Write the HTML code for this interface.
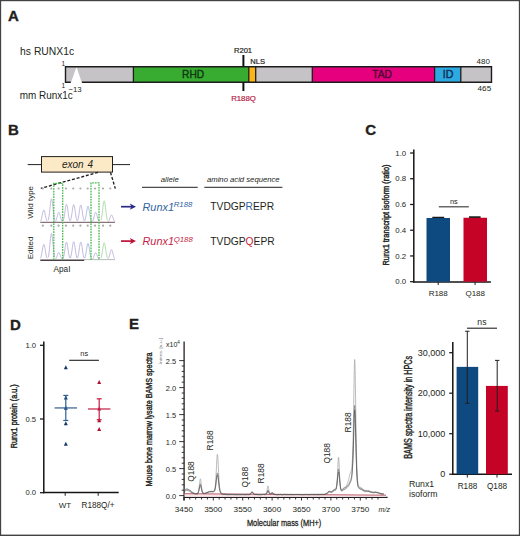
<!DOCTYPE html>
<html><head><meta charset="utf-8"><style>
html,body{margin:0;padding:0;background:#fff;}
svg{display:block;font-family:"Liberation Sans", sans-serif;}
</style></head><body>
<svg width="520" height="536" viewBox="0 0 520 536">
<rect x="0" y="0" width="520" height="536" fill="#fff"/>
<text x="7.9" y="20.6" font-size="15" fill="#231f20" text-anchor="start" font-weight="bold" font-style="normal" stroke="#231f20" stroke-width="0.35">A</text>
<text x="20.1" y="55.3" font-size="10.7" fill="#231f20" text-anchor="start" font-weight="normal" font-style="normal" textLength="54" lengthAdjust="spacingAndGlyphs">hs RUNX1c</text>
<text x="19.8" y="98.8" font-size="10.7" fill="#231f20" text-anchor="start" font-weight="normal" font-style="normal" textLength="53" lengthAdjust="spacingAndGlyphs">mm Runx1c</text>
<rect x="65.5" y="66.7" width="67.9" height="15.599999999999994" fill="#c6c3c6"/>
<rect x="133.4" y="66.7" width="115.4" height="15.599999999999994" fill="#37ac31"/>
<rect x="248.8" y="66.7" width="6.899999999999977" height="15.599999999999994" fill="#fbb616"/>
<rect x="255.7" y="66.7" width="56.60000000000002" height="15.599999999999994" fill="#c6c3c6"/>
<rect x="312.3" y="66.7" width="122.30000000000001" height="15.599999999999994" fill="#e6007e"/>
<rect x="434.6" y="66.7" width="26.19999999999999" height="15.599999999999994" fill="#2eaae2"/>
<rect x="460.8" y="66.7" width="30.69999999999999" height="15.599999999999994" fill="#c6c3c6"/>
<line x1="133.4" y1="66.7" x2="133.4" y2="82.3" stroke="#1c1c1c" stroke-width="1.3"/>
<line x1="248.8" y1="66.7" x2="248.8" y2="82.3" stroke="#1c1c1c" stroke-width="1.3"/>
<line x1="255.7" y1="66.7" x2="255.7" y2="82.3" stroke="#1c1c1c" stroke-width="1.3"/>
<line x1="312.3" y1="66.7" x2="312.3" y2="82.3" stroke="#1c1c1c" stroke-width="1.3"/>
<line x1="434.6" y1="66.7" x2="434.6" y2="82.3" stroke="#1c1c1c" stroke-width="1.3"/>
<line x1="460.8" y1="66.7" x2="460.8" y2="82.3" stroke="#1c1c1c" stroke-width="1.3"/>
<polygon points="70.8,82.89999999999999 76.5,67.0 81.9,82.89999999999999" fill="#fff"/>
<path d="M70.8,82.3 H65.5 V66.7 H491.5 V82.3 H81.9" fill="none" stroke="#1c1c1c" stroke-width="1.4"/>
<text x="193.1" y="77.5" font-size="10.2" fill="#123612" text-anchor="middle" font-weight="normal" font-style="normal" stroke="#123612" stroke-width="0.35">RHD</text>
<text x="382.1" y="77.6" font-size="10.2" fill="#4e0830" text-anchor="middle" font-weight="normal" font-style="normal" stroke="#4e0830" stroke-width="0.4">TAD</text>
<text x="448.0" y="77.6" font-size="10.6" fill="#0d3658" text-anchor="middle" font-weight="normal" font-style="normal" stroke="#0d3658" stroke-width="0.45">ID</text>
<line x1="243.4" y1="55" x2="243.4" y2="66" stroke="#111" stroke-width="2"/>
<line x1="243.4" y1="82.6" x2="243.4" y2="91" stroke="#111" stroke-width="2"/>
<text x="243" y="53" font-size="7.6" fill="#231f20" text-anchor="middle" font-weight="normal" font-style="normal" stroke="#231f20" stroke-width="0.2">R201</text>
<text x="250.3" y="64" font-size="7.6" fill="#231f20" text-anchor="start" font-weight="normal" font-style="normal" stroke="#231f20" stroke-width="0.2">NLS</text>
<text x="243.5" y="101.2" font-size="7.8" fill="#b8203f" text-anchor="middle" font-weight="normal" font-style="normal" stroke="#b8203f" stroke-width="0.2">R188Q</text>
<text x="61.4" y="65.5" font-size="6.6" fill="#231f20" text-anchor="start" font-weight="normal" font-style="normal" >1</text>
<text x="61.4" y="87.9" font-size="6.6" fill="#231f20" text-anchor="start" font-weight="normal" font-style="normal" >1</text>
<text x="68.4" y="91.7" font-size="7.8" fill="#231f20" text-anchor="start" font-weight="normal" font-style="normal" >−13</text>
<text x="476.6" y="63.8" font-size="6.8" fill="#231f20" text-anchor="start" font-weight="normal" font-style="normal" textLength="13.3" lengthAdjust="spacingAndGlyphs">480</text>
<text x="477.6" y="91.3" font-size="6.8" fill="#231f20" text-anchor="start" font-weight="normal" font-style="normal" textLength="13.6" lengthAdjust="spacingAndGlyphs">465</text>
<text x="7.9" y="134.5" font-size="15" fill="#231f20" text-anchor="start" font-weight="bold" font-style="normal" stroke="#231f20" stroke-width="0.35">B</text>
<line x1="27.7" y1="164.6" x2="130" y2="164.6" stroke="#231f20" stroke-width="1"/>
<rect x="41.5" y="156.6" width="71" height="15.5" fill="#fce9c6" stroke="#231f20" stroke-width="1"/>
<text x="77.5" y="167.7" font-size="10" fill="#231f20" text-anchor="middle" font-weight="normal" font-style="italic" word-spacing="1">exon 4</text>
<line x1="98" y1="172.4" x2="40.8" y2="188.3" stroke="#231f20" stroke-width="1.35" stroke-dasharray="3,1.8"/>
<line x1="110.5" y1="172.4" x2="115.3" y2="188.6" stroke="#231f20" stroke-width="1.35" stroke-dasharray="3,1.8"/>
<circle cx="42.8" cy="188.5" r="1.1" fill="#a8aaad"/>
<circle cx="42.8" cy="225.7" r="1.1" fill="#a8aaad"/>
<circle cx="51.3" cy="188.5" r="1.1" fill="#a8aaad"/>
<circle cx="51.3" cy="225.7" r="1.1" fill="#a8aaad"/>
<circle cx="58.6" cy="188.5" r="1.1" fill="#a8aaad"/>
<circle cx="58.6" cy="225.7" r="1.1" fill="#a8aaad"/>
<circle cx="65.9" cy="188.5" r="1.1" fill="#a8aaad"/>
<circle cx="65.9" cy="225.7" r="1.1" fill="#a8aaad"/>
<circle cx="73.2" cy="188.5" r="1.1" fill="#a8aaad"/>
<circle cx="73.2" cy="225.7" r="1.1" fill="#a8aaad"/>
<circle cx="80.4" cy="188.5" r="1.1" fill="#a8aaad"/>
<circle cx="80.4" cy="225.7" r="1.1" fill="#a8aaad"/>
<circle cx="87.7" cy="188.5" r="1.1" fill="#a8aaad"/>
<circle cx="87.7" cy="225.7" r="1.1" fill="#a8aaad"/>
<circle cx="95.0" cy="188.5" r="1.1" fill="#a8aaad"/>
<circle cx="95.0" cy="225.7" r="1.1" fill="#a8aaad"/>
<circle cx="103.0" cy="188.5" r="1.1" fill="#a8aaad"/>
<circle cx="103.0" cy="225.7" r="1.1" fill="#a8aaad"/>
<circle cx="110.3" cy="188.5" r="1.1" fill="#a8aaad"/>
<circle cx="110.3" cy="225.7" r="1.1" fill="#a8aaad"/>
<path d="M40.50,221.21 L40.83,220.57 L41.16,219.69 L41.49,218.54 L41.82,217.15 L42.15,215.58 L42.48,213.95 L42.81,212.41 L43.14,211.13 L43.47,210.29 L43.80,210.00 L44.13,210.29 L44.46,211.13 L44.79,212.41 L45.12,213.95 L45.45,215.58 L45.78,217.15 L46.11,218.54 L46.44,219.69 L46.77,220.57 L47.10,221.21" fill="none" stroke="#b3aad6" stroke-width="0.8"/>
<path d="M48.20,220.21 L48.53,218.99 L48.86,217.31 L49.19,215.12 L49.52,212.47 L49.85,209.47 L50.18,206.34 L50.51,203.40 L50.84,200.97 L51.17,199.36 L51.50,198.80 L51.83,199.36 L52.16,200.97 L52.49,203.40 L52.82,206.34 L53.15,209.47 L53.48,212.47 L53.81,215.12 L54.14,217.31 L54.47,218.99 L54.80,220.21" fill="none" stroke="#b3aad6" stroke-width="0.8"/>
<path d="M55.50,221.41 L55.83,220.89 L56.16,220.17 L56.49,219.24 L56.82,218.12 L57.15,216.84 L57.48,215.51 L57.81,214.26 L58.14,213.22 L58.47,212.54 L58.80,212.30 L59.13,212.54 L59.46,213.22 L59.79,214.26 L60.12,215.51 L60.45,216.84 L60.78,218.12 L61.11,219.24 L61.44,220.17 L61.77,220.89 L62.10,221.41" fill="none" stroke="#b3aad6" stroke-width="0.8"/>
<path d="M63.20,220.70 L63.53,219.77 L63.86,218.47 L64.19,216.80 L64.52,214.77 L64.85,212.47 L65.18,210.08 L65.51,207.82 L65.84,205.96 L66.17,204.73 L66.50,204.30 L66.83,204.73 L67.16,205.96 L67.49,207.82 L67.82,210.08 L68.15,212.47 L68.48,214.77 L68.81,216.80 L69.14,218.47 L69.47,219.77 L69.80,220.70" fill="none" stroke="#b3aad6" stroke-width="0.8"/>
<path d="M70.40,220.73 L70.73,219.81 L71.06,218.54 L71.39,216.89 L71.72,214.89 L72.05,212.63 L72.38,210.28 L72.71,208.06 L73.04,206.23 L73.37,205.02 L73.70,204.60 L74.03,205.02 L74.36,206.23 L74.69,208.06 L75.02,210.28 L75.35,212.63 L75.68,214.89 L76.01,216.89 L76.34,218.54 L76.67,219.81 L77.00,220.73" fill="none" stroke="#b3aad6" stroke-width="0.8"/>
<path d="M77.50,220.76 L77.83,219.86 L78.16,218.62 L78.49,217.01 L78.82,215.06 L79.15,212.85 L79.48,210.55 L79.81,208.39 L80.14,206.60 L80.47,205.41 L80.80,205.00 L81.13,205.41 L81.46,206.60 L81.79,208.39 L82.12,210.55 L82.45,212.85 L82.78,215.06 L83.11,217.01 L83.44,218.62 L83.77,219.86 L84.10,220.76" fill="none" stroke="#b3aad6" stroke-width="0.8"/>
<path d="M84.70,220.87 L85.03,220.03 L85.36,218.88 L85.69,217.38 L86.02,215.56 L86.35,213.51 L86.68,211.37 L87.01,209.35 L87.34,207.69 L87.67,206.58 L88.00,206.20 L88.33,206.58 L88.66,207.69 L88.99,209.35 L89.32,211.37 L89.65,213.51 L89.98,215.56 L90.31,217.38 L90.64,218.88 L90.97,220.03 L91.30,220.87" fill="none" stroke="#9db0d8" stroke-width="0.8"/>
<path d="M92.40,221.41 L92.73,220.89 L93.06,220.17 L93.39,219.24 L93.72,218.12 L94.05,216.84 L94.38,215.51 L94.71,214.26 L95.04,213.22 L95.37,212.54 L95.70,212.30 L96.03,212.54 L96.36,213.22 L96.69,214.26 L97.02,215.51 L97.35,216.84 L97.68,218.12 L98.01,219.24 L98.34,220.17 L98.67,220.89 L99.00,221.41" fill="none" stroke="#b3aad6" stroke-width="0.8"/>
<path d="M100.90,220.39 L101.23,219.27 L101.56,217.73 L101.89,215.73 L102.22,213.30 L102.55,210.56 L102.88,207.70 L103.21,205.01 L103.54,202.78 L103.87,201.31 L104.20,200.80 L104.53,201.31 L104.86,202.78 L105.19,205.01 L105.52,207.70 L105.85,210.56 L106.18,213.30 L106.51,215.73 L106.84,217.73 L107.17,219.27 L107.50,220.39" fill="none" stroke="#9ed49a" stroke-width="0.8"/>
<path d="M108.20,221.65 L108.53,221.27 L108.86,220.75 L109.19,220.07 L109.52,219.25 L109.85,218.31 L110.18,217.34 L110.51,216.43 L110.84,215.67 L111.17,215.17 L111.50,215.00 L111.83,215.17 L112.16,215.67 L112.49,216.43 L112.82,217.34 L113.15,218.31 L113.48,219.25 L113.81,220.07 L114.14,220.75 L114.47,221.27 L114.80,221.65" fill="none" stroke="#b3aad6" stroke-width="0.8"/>
<line x1="40.3" y1="222.3" x2="114.9" y2="222.3" stroke="#6d4f58" stroke-width="1"/>
<path d="M40.50,258.24 L40.83,257.45 L41.16,256.35 L41.49,254.93 L41.82,253.20 L42.15,251.25 L42.48,249.21 L42.81,247.29 L43.14,245.71 L43.47,244.67 L43.80,244.30 L44.13,244.67 L44.46,245.71 L44.79,247.29 L45.12,249.21 L45.45,251.25 L45.78,253.20 L46.11,254.93 L46.44,256.35 L46.77,257.45 L47.10,258.24" fill="none" stroke="#b3aad6" stroke-width="0.8"/>
<path d="M48.20,257.28 L48.53,255.92 L48.86,254.05 L49.19,251.63 L49.52,248.68 L49.85,245.35 L50.18,241.88 L50.51,238.61 L50.84,235.91 L51.17,234.12 L51.50,233.50 L51.83,234.12 L52.16,235.91 L52.49,238.61 L52.82,241.88 L53.15,245.35 L53.48,248.68 L53.81,251.63 L54.14,254.05 L54.47,255.92 L54.80,257.28" fill="none" stroke="#b3aad6" stroke-width="0.8"/>
<path d="M55.50,258.97 L55.83,258.60 L56.16,258.09 L56.49,257.43 L56.82,256.63 L57.15,255.72 L57.48,254.78 L57.81,253.89 L58.14,253.16 L58.47,252.67 L58.80,252.50 L59.13,252.67 L59.46,253.16 L59.79,253.89 L60.12,254.78 L60.45,255.72 L60.78,256.63 L61.11,257.43 L61.44,258.09 L61.77,258.60 L62.10,258.97" fill="none" stroke="#b3aad6" stroke-width="0.8"/>
<path d="M63.20,258.03 L63.53,257.12 L63.86,255.86 L64.19,254.22 L64.52,252.24 L64.85,249.99 L65.18,247.65 L65.51,245.44 L65.84,243.62 L66.17,242.42 L66.50,242.00 L66.83,242.42 L67.16,243.62 L67.49,245.44 L67.82,247.65 L68.15,249.99 L68.48,252.24 L68.81,254.22 L69.14,255.86 L69.47,257.12 L69.80,258.03" fill="none" stroke="#b3aad6" stroke-width="0.8"/>
<path d="M70.40,258.01 L70.73,257.08 L71.06,255.80 L71.39,254.13 L71.72,252.11 L72.05,249.83 L72.38,247.45 L72.71,245.20 L73.04,243.35 L73.37,242.13 L73.70,241.70 L74.03,242.13 L74.36,243.35 L74.69,245.20 L75.02,247.45 L75.35,249.83 L75.68,252.11 L76.01,254.13 L76.34,255.80 L76.67,257.08 L77.00,258.01" fill="none" stroke="#b3aad6" stroke-width="0.8"/>
<path d="M77.50,258.03 L77.83,257.12 L78.16,255.86 L78.49,254.22 L78.82,252.24 L79.15,249.99 L79.48,247.65 L79.81,245.44 L80.14,243.62 L80.47,242.42 L80.80,242.00 L81.13,242.42 L81.46,243.62 L81.79,245.44 L82.12,247.65 L82.45,249.99 L82.78,252.24 L83.11,254.22 L83.44,255.86 L83.77,257.12 L84.10,258.03" fill="none" stroke="#b3aad6" stroke-width="0.8"/>
<path d="M84.70,258.17 L85.03,257.33 L85.36,256.18 L85.69,254.68 L86.02,252.86 L86.35,250.81 L86.68,248.67 L87.01,246.65 L87.34,244.99 L87.67,243.88 L88.00,243.50 L88.33,243.88 L88.66,244.99 L88.99,246.65 L89.32,248.67 L89.65,250.81 L89.98,252.86 L90.31,254.68 L90.64,256.18 L90.97,257.33 L91.30,258.17" fill="none" stroke="#9db0d8" stroke-width="0.8"/>
<path d="M92.40,259.00 L92.73,258.64 L93.06,258.15 L93.39,257.52 L93.72,256.75 L94.05,255.89 L94.38,254.98 L94.71,254.13 L95.04,253.43 L95.37,252.96 L95.70,252.80 L96.03,252.96 L96.36,253.43 L96.69,254.13 L97.02,254.98 L97.35,255.89 L97.68,256.75 L98.01,257.52 L98.34,258.15 L98.67,258.64 L99.00,259.00" fill="none" stroke="#b3aad6" stroke-width="0.8"/>
<path d="M100.90,258.11 L101.23,257.23 L101.56,256.03 L101.89,254.47 L102.22,252.57 L102.55,250.43 L102.88,248.19 L103.21,246.09 L103.54,244.35 L103.87,243.20 L104.20,242.80 L104.53,243.20 L104.86,244.35 L105.19,246.09 L105.52,248.19 L105.85,250.43 L106.18,252.57 L106.51,254.47 L106.84,256.03 L107.17,257.23 L107.50,258.11" fill="none" stroke="#9ed49a" stroke-width="0.8"/>
<path d="M108.20,258.72 L108.53,258.21 L108.86,257.50 L109.19,256.58 L109.52,255.46 L109.85,254.19 L110.18,252.88 L110.51,251.64 L110.84,250.61 L111.17,249.94 L111.50,249.70 L111.83,249.94 L112.16,250.61 L112.49,251.64 L112.82,252.88 L113.15,254.19 L113.48,255.46 L113.81,256.58 L114.14,257.50 L114.47,258.21 L114.80,258.72" fill="none" stroke="#b3aad6" stroke-width="0.8"/>
<line x1="84" y1="259.6" x2="114.9" y2="259.6" stroke="#a7a7a7" stroke-width="0.8"/>
<line x1="40.3" y1="260.2" x2="84.2" y2="260.2" stroke="#4a4044" stroke-width="1.6"/>
<path d="M53.8,260 V183.4 H62.7 V260" fill="none" stroke="#44bb4c" stroke-width="1.3" stroke-dasharray="1.7,1"/>
<path d="M91.0,260 V182.9 H99.0 V260" fill="none" stroke="#44bb4c" stroke-width="1.3" stroke-dasharray="1.7,1"/>
<text x="62" y="272" font-size="8.2" fill="#231f20" text-anchor="middle" font-weight="normal" font-style="normal" >ApaI</text>
<text transform="translate(32.6,202.4) rotate(-90) scale(1.0,1)" x="0" y="0" font-size="8" fill="#231f20" text-anchor="middle" >Wild type</text>
<text transform="translate(32.6,248) rotate(-90) scale(1.0,1)" x="0" y="0" font-size="8" fill="#231f20" text-anchor="middle" >Edited</text>
<line x1="121" y1="206.7" x2="133" y2="206.7" stroke="#2d2b86" stroke-width="1.7"/>
<polygon points="136,206.7 129.8,203.6 131.4,206.7 129.8,209.79999999999998" fill="#2d2b86"/>
<line x1="121" y1="241.1" x2="133" y2="241.1" stroke="#bb1236" stroke-width="1.7"/>
<polygon points="136,241.1 129.8,238.0 131.4,241.1 129.8,244.2" fill="#bb1236"/>
<text x="169.8" y="182.2" font-size="7.7" fill="#231f20" text-anchor="middle" font-weight="normal" font-style="italic" >allele</text>
<text x="243.3" y="182.2" font-size="7.7" fill="#231f20" text-anchor="middle" font-weight="normal" font-style="italic" >amino acid sequence</text>
<line x1="142" y1="187.3" x2="197.7" y2="187.3" stroke="#231f20" stroke-width="1"/>
<line x1="204.3" y1="187.3" x2="282.4" y2="187.3" stroke="#231f20" stroke-width="1"/>
<text x="142.5" y="211.2" font-size="10.9" font-style="italic" fill="#30649f">Runx1<tspan font-size="7.8" dy="-3.9" dx="-0.3">R188</tspan></text>
<text x="142.5" y="245.4" font-size="10.9" font-style="italic" fill="#c41e45">Runx1<tspan font-size="7.8" dy="-3.9" dx="-0.3">Q188</tspan></text>
<text x="210.3" y="209.9" font-size="10.25" fill="#231f20">TVDGP<tspan fill="#30649f">R</tspan>EPR</text>
<text x="210.3" y="245.3" font-size="10.25" fill="#231f20">TVDGP<tspan fill="#cc1b3c">Q</tspan>EPR</text>
<text x="365.3" y="134.7" font-size="15" fill="#231f20" text-anchor="start" font-weight="bold" font-style="normal" stroke="#231f20" stroke-width="0.35">C</text>
<line x1="413.8" y1="149.5" x2="413.8" y2="282.6" stroke="#151515" stroke-width="1.5"/>
<line x1="413.1" y1="281.9" x2="490.9" y2="281.9" stroke="#151515" stroke-width="1.5"/>
<line x1="410.1" y1="281.70" x2="413.8" y2="281.70" stroke="#151515" stroke-width="1.25"/>
<text x="395.3" y="284.3" font-size="7.2" fill="#231f20" text-anchor="start" font-weight="normal" font-style="normal" textLength="10.9" lengthAdjust="spacingAndGlyphs">0.0</text>
<line x1="410.1" y1="255.96" x2="413.8" y2="255.96" stroke="#151515" stroke-width="1.25"/>
<text x="395.3" y="258.56" font-size="7.2" fill="#231f20" text-anchor="start" font-weight="normal" font-style="normal" textLength="10.9" lengthAdjust="spacingAndGlyphs">0.2</text>
<line x1="410.1" y1="230.22" x2="413.8" y2="230.22" stroke="#151515" stroke-width="1.25"/>
<text x="395.3" y="232.82" font-size="7.2" fill="#231f20" text-anchor="start" font-weight="normal" font-style="normal" textLength="10.9" lengthAdjust="spacingAndGlyphs">0.4</text>
<line x1="410.1" y1="204.48" x2="413.8" y2="204.48" stroke="#151515" stroke-width="1.25"/>
<text x="395.3" y="207.08" font-size="7.2" fill="#231f20" text-anchor="start" font-weight="normal" font-style="normal" textLength="10.9" lengthAdjust="spacingAndGlyphs">0.6</text>
<line x1="410.1" y1="178.74" x2="413.8" y2="178.74" stroke="#151515" stroke-width="1.25"/>
<text x="395.3" y="181.34" font-size="7.2" fill="#231f20" text-anchor="start" font-weight="normal" font-style="normal" textLength="10.9" lengthAdjust="spacingAndGlyphs">0.8</text>
<line x1="410.1" y1="153.00" x2="413.8" y2="153.00" stroke="#151515" stroke-width="1.25"/>
<text x="395.3" y="155.6" font-size="7.2" fill="#231f20" text-anchor="start" font-weight="normal" font-style="normal" textLength="10.9" lengthAdjust="spacingAndGlyphs">1.0</text>
<line x1="438.2" y1="281.7" x2="438.2" y2="285" stroke="#231f20" stroke-width="1"/>
<line x1="475.1" y1="281.7" x2="475.1" y2="285" stroke="#231f20" stroke-width="1"/>
<rect x="426.5" y="217.99" width="23.5" height="63.71" fill="#0e4980"/>
<rect x="463.5" y="217.74" width="23.5" height="63.96" fill="#c50326"/>
<line x1="432.3" y1="217.4" x2="444.2" y2="217.4" stroke="#1a1a1a" stroke-width="1.3"/>
<line x1="469" y1="217.1" x2="480.6" y2="217.1" stroke="#111" stroke-width="1.6"/>
<line x1="438.8" y1="206.8" x2="468.8" y2="206.8" stroke="#444" stroke-width="1.2"/>
<text x="453.8" y="203.5" font-size="7.4" fill="#231f20" text-anchor="middle" font-weight="normal" font-style="normal" >ns</text>
<text x="438.2" y="296.3" font-size="8" fill="#231f20" text-anchor="middle" font-weight="normal" font-style="normal" >R188</text>
<text x="475.2" y="296.3" font-size="8" fill="#231f20" text-anchor="middle" font-weight="normal" font-style="normal" >Q188</text>
<text transform="translate(389.2,164.5) rotate(-90) scale(1.0,1)" x="0" y="0" font-size="8.6" fill="#231f20" text-anchor="end"  textLength="101" lengthAdjust="spacingAndGlyphs" stroke="#231f20" stroke-width="0.4">Runx1 transcript isoform (ratio)</text>
<text x="9.9" y="329.7" font-size="15" fill="#231f20" text-anchor="start" font-weight="bold" font-style="normal" stroke="#231f20" stroke-width="0.35">D</text>
<line x1="43.8" y1="341.6" x2="43.8" y2="493.2" stroke="#151515" stroke-width="1.5"/>
<line x1="43" y1="492.45" x2="118.7" y2="492.45" stroke="#151515" stroke-width="1.5"/>
<line x1="40" y1="492.70" x2="43.8" y2="492.70" stroke="#151515" stroke-width="1.25"/>
<text x="25.5" y="495.2" font-size="7.4" fill="#231f20" text-anchor="start" font-weight="normal" font-style="normal" textLength="10.6" lengthAdjust="spacingAndGlyphs">0.0</text>
<line x1="40" y1="419.00" x2="43.8" y2="419.00" stroke="#151515" stroke-width="1.25"/>
<text x="25.5" y="421.5" font-size="7.4" fill="#231f20" text-anchor="start" font-weight="normal" font-style="normal" textLength="10.6" lengthAdjust="spacingAndGlyphs">0.5</text>
<line x1="40" y1="345.30" x2="43.8" y2="345.30" stroke="#151515" stroke-width="1.25"/>
<text x="25.5" y="347.79999999999995" font-size="7.4" fill="#231f20" text-anchor="start" font-weight="normal" font-style="normal" textLength="10.6" lengthAdjust="spacingAndGlyphs">1.0</text>
<line x1="65.2" y1="492.7" x2="65.2" y2="495.8" stroke="#231f20" stroke-width="1"/>
<line x1="98.2" y1="492.7" x2="98.2" y2="495.8" stroke="#231f20" stroke-width="1"/>
<text x="65.0" y="507.8" font-size="8.0" fill="#231f20" text-anchor="middle" font-weight="normal" font-style="normal" >WT</text>
<text x="98.0" y="507.8" font-size="8.2" fill="#231f20" text-anchor="middle" font-weight="normal" font-style="normal" >R188Q/+</text>
<line x1="69.2" y1="360.3" x2="98.9" y2="360.3" stroke="#231f20" stroke-width="1.1"/>
<text x="84.2" y="356.4" font-size="7.4" fill="#231f20" text-anchor="middle" font-weight="normal" font-style="normal" >ns</text>
<polygon points="65.8,365.21 63.80,369.21 67.80,369.21" fill="#143b68"/>
<polygon points="65.8,395.43 63.80,399.43 67.80,399.43" fill="#143b68"/>
<polygon points="65.8,405.75 63.80,409.75 67.80,409.75" fill="#143b68"/>
<polygon points="65.8,421.22 63.80,425.22 67.80,425.22" fill="#143b68"/>
<polygon points="65.8,441.86 63.80,445.86 67.80,445.86" fill="#143b68"/>
<polygon points="99.2,379.95 97.20,383.95 101.20,383.95" fill="#b3122f"/>
<polygon points="99.2,406.48 97.20,410.48 101.20,410.48" fill="#b3122f"/>
<polygon points="99.2,418.27 97.20,422.27 101.20,422.27" fill="#b3122f"/>
<polygon points="99.2,427.12 97.20,431.12 101.20,431.12" fill="#b3122f"/>
<line x1="54.599999999999994" y1="407.94" x2="77.0" y2="407.94" stroke="#2f5f94" stroke-width="1.2"/>
<line x1="65.8" y1="395.42" x2="65.8" y2="420.47" stroke="#2f5f94" stroke-width="1.2"/>
<line x1="63.3" y1="420.47" x2="68.3" y2="420.47" stroke="#2f5f94" stroke-width="1.2"/>
<line x1="63.3" y1="395.42" x2="68.3" y2="395.42" stroke="#2f5f94" stroke-width="1.2"/>
<line x1="88.0" y1="408.98" x2="110.4" y2="408.98" stroke="#c41e45" stroke-width="1.2"/>
<line x1="99.2" y1="398.81" x2="99.2" y2="419.74" stroke="#c41e45" stroke-width="1.2"/>
<line x1="96.7" y1="419.74" x2="101.7" y2="419.74" stroke="#c41e45" stroke-width="1.2"/>
<line x1="96.7" y1="398.81" x2="101.7" y2="398.81" stroke="#c41e45" stroke-width="1.2"/>
<text transform="translate(17.3,448.3) rotate(-90) scale(1.0,1)" x="0" y="0" font-size="8.8" fill="#231f20" text-anchor="start"  textLength="64" lengthAdjust="spacingAndGlyphs" stroke="#231f20" stroke-width="0.4">Runx1 protein (a.u.)</text>
<text x="129.1" y="329.4" font-size="15" fill="#231f20" text-anchor="start" font-weight="bold" font-style="normal" stroke="#231f20" stroke-width="0.35">E</text>
<line x1="184.1" y1="341.5" x2="184.1" y2="500.4" stroke="#231f20" stroke-width="1.3"/>
<line x1="183.6" y1="497.3" x2="387.6" y2="497.3" stroke="#231f20" stroke-width="1.3"/>
<line x1="179.2" y1="495.60" x2="184.2" y2="495.60" stroke="#231f20" stroke-width="0.9"/>
<text x="176.1" y="498.8" font-size="7.4" fill="#231f20" text-anchor="end" font-weight="normal" font-style="normal" >0.0</text>
<line x1="181.7" y1="490.20" x2="184.2" y2="490.20" stroke="#231f20" stroke-width="0.9"/>
<line x1="181.7" y1="484.80" x2="184.2" y2="484.80" stroke="#231f20" stroke-width="0.9"/>
<line x1="181.7" y1="479.40" x2="184.2" y2="479.40" stroke="#231f20" stroke-width="0.9"/>
<line x1="181.7" y1="474.00" x2="184.2" y2="474.00" stroke="#231f20" stroke-width="0.9"/>
<line x1="179.2" y1="468.60" x2="184.2" y2="468.60" stroke="#231f20" stroke-width="0.9"/>
<text x="176.1" y="471.8" font-size="7.4" fill="#231f20" text-anchor="end" font-weight="normal" font-style="normal" >0.5</text>
<line x1="181.7" y1="463.20" x2="184.2" y2="463.20" stroke="#231f20" stroke-width="0.9"/>
<line x1="181.7" y1="457.80" x2="184.2" y2="457.80" stroke="#231f20" stroke-width="0.9"/>
<line x1="181.7" y1="452.40" x2="184.2" y2="452.40" stroke="#231f20" stroke-width="0.9"/>
<line x1="181.7" y1="447.00" x2="184.2" y2="447.00" stroke="#231f20" stroke-width="0.9"/>
<line x1="179.2" y1="441.60" x2="184.2" y2="441.60" stroke="#231f20" stroke-width="0.9"/>
<text x="176.1" y="444.8" font-size="7.4" fill="#231f20" text-anchor="end" font-weight="normal" font-style="normal" >1.0</text>
<line x1="181.7" y1="436.20" x2="184.2" y2="436.20" stroke="#231f20" stroke-width="0.9"/>
<line x1="181.7" y1="430.80" x2="184.2" y2="430.80" stroke="#231f20" stroke-width="0.9"/>
<line x1="181.7" y1="425.40" x2="184.2" y2="425.40" stroke="#231f20" stroke-width="0.9"/>
<line x1="181.7" y1="420.00" x2="184.2" y2="420.00" stroke="#231f20" stroke-width="0.9"/>
<line x1="179.2" y1="414.60" x2="184.2" y2="414.60" stroke="#231f20" stroke-width="0.9"/>
<text x="176.1" y="417.8" font-size="7.4" fill="#231f20" text-anchor="end" font-weight="normal" font-style="normal" >1.5</text>
<line x1="181.7" y1="409.20" x2="184.2" y2="409.20" stroke="#231f20" stroke-width="0.9"/>
<line x1="181.7" y1="403.80" x2="184.2" y2="403.80" stroke="#231f20" stroke-width="0.9"/>
<line x1="181.7" y1="398.40" x2="184.2" y2="398.40" stroke="#231f20" stroke-width="0.9"/>
<line x1="181.7" y1="393.00" x2="184.2" y2="393.00" stroke="#231f20" stroke-width="0.9"/>
<line x1="179.2" y1="387.60" x2="184.2" y2="387.60" stroke="#231f20" stroke-width="0.9"/>
<text x="176.1" y="390.8" font-size="7.4" fill="#231f20" text-anchor="end" font-weight="normal" font-style="normal" >2.0</text>
<line x1="181.7" y1="382.20" x2="184.2" y2="382.20" stroke="#231f20" stroke-width="0.9"/>
<line x1="181.7" y1="376.80" x2="184.2" y2="376.80" stroke="#231f20" stroke-width="0.9"/>
<line x1="181.7" y1="371.40" x2="184.2" y2="371.40" stroke="#231f20" stroke-width="0.9"/>
<line x1="181.7" y1="366.00" x2="184.2" y2="366.00" stroke="#231f20" stroke-width="0.9"/>
<line x1="179.2" y1="360.60" x2="184.2" y2="360.60" stroke="#231f20" stroke-width="0.9"/>
<text x="176.1" y="363.8" font-size="7.4" fill="#231f20" text-anchor="end" font-weight="normal" font-style="normal" >2.5</text>
<line x1="183.90" y1="497.3" x2="183.90" y2="500.5" stroke="#231f20" stroke-width="0.9"/>
<text x="174.8" y="511.9" font-size="7.6" fill="#231f20" text-anchor="start" font-weight="normal" font-style="normal" textLength="18.2" lengthAdjust="spacingAndGlyphs">3450</text>
<line x1="189.78" y1="497.3" x2="189.78" y2="499.5" stroke="#231f20" stroke-width="0.9"/>
<line x1="195.66" y1="497.3" x2="195.66" y2="499.5" stroke="#231f20" stroke-width="0.9"/>
<line x1="201.54" y1="497.3" x2="201.54" y2="499.5" stroke="#231f20" stroke-width="0.9"/>
<line x1="207.42" y1="497.3" x2="207.42" y2="499.5" stroke="#231f20" stroke-width="0.9"/>
<line x1="213.30" y1="497.3" x2="213.30" y2="500.5" stroke="#231f20" stroke-width="0.9"/>
<text x="204.20000000000002" y="511.9" font-size="7.6" fill="#231f20" text-anchor="start" font-weight="normal" font-style="normal" textLength="18.2" lengthAdjust="spacingAndGlyphs">3500</text>
<line x1="219.18" y1="497.3" x2="219.18" y2="499.5" stroke="#231f20" stroke-width="0.9"/>
<line x1="225.06" y1="497.3" x2="225.06" y2="499.5" stroke="#231f20" stroke-width="0.9"/>
<line x1="230.94" y1="497.3" x2="230.94" y2="499.5" stroke="#231f20" stroke-width="0.9"/>
<line x1="236.82" y1="497.3" x2="236.82" y2="499.5" stroke="#231f20" stroke-width="0.9"/>
<line x1="242.70" y1="497.3" x2="242.70" y2="500.5" stroke="#231f20" stroke-width="0.9"/>
<text x="233.6" y="511.9" font-size="7.6" fill="#231f20" text-anchor="start" font-weight="normal" font-style="normal" textLength="18.2" lengthAdjust="spacingAndGlyphs">3550</text>
<line x1="248.58" y1="497.3" x2="248.58" y2="499.5" stroke="#231f20" stroke-width="0.9"/>
<line x1="254.46" y1="497.3" x2="254.46" y2="499.5" stroke="#231f20" stroke-width="0.9"/>
<line x1="260.34" y1="497.3" x2="260.34" y2="499.5" stroke="#231f20" stroke-width="0.9"/>
<line x1="266.22" y1="497.3" x2="266.22" y2="499.5" stroke="#231f20" stroke-width="0.9"/>
<line x1="272.10" y1="497.3" x2="272.10" y2="500.5" stroke="#231f20" stroke-width="0.9"/>
<text x="263.0" y="511.9" font-size="7.6" fill="#231f20" text-anchor="start" font-weight="normal" font-style="normal" textLength="18.2" lengthAdjust="spacingAndGlyphs">3600</text>
<line x1="277.98" y1="497.3" x2="277.98" y2="499.5" stroke="#231f20" stroke-width="0.9"/>
<line x1="283.86" y1="497.3" x2="283.86" y2="499.5" stroke="#231f20" stroke-width="0.9"/>
<line x1="289.74" y1="497.3" x2="289.74" y2="499.5" stroke="#231f20" stroke-width="0.9"/>
<line x1="295.62" y1="497.3" x2="295.62" y2="499.5" stroke="#231f20" stroke-width="0.9"/>
<line x1="301.50" y1="497.3" x2="301.50" y2="500.5" stroke="#231f20" stroke-width="0.9"/>
<text x="292.4" y="511.9" font-size="7.6" fill="#231f20" text-anchor="start" font-weight="normal" font-style="normal" textLength="18.2" lengthAdjust="spacingAndGlyphs">3650</text>
<line x1="307.38" y1="497.3" x2="307.38" y2="499.5" stroke="#231f20" stroke-width="0.9"/>
<line x1="313.26" y1="497.3" x2="313.26" y2="499.5" stroke="#231f20" stroke-width="0.9"/>
<line x1="319.14" y1="497.3" x2="319.14" y2="499.5" stroke="#231f20" stroke-width="0.9"/>
<line x1="325.02" y1="497.3" x2="325.02" y2="499.5" stroke="#231f20" stroke-width="0.9"/>
<line x1="330.90" y1="497.3" x2="330.90" y2="500.5" stroke="#231f20" stroke-width="0.9"/>
<text x="321.79999999999995" y="511.9" font-size="7.6" fill="#231f20" text-anchor="start" font-weight="normal" font-style="normal" textLength="18.2" lengthAdjust="spacingAndGlyphs">3700</text>
<line x1="336.78" y1="497.3" x2="336.78" y2="499.5" stroke="#231f20" stroke-width="0.9"/>
<line x1="342.66" y1="497.3" x2="342.66" y2="499.5" stroke="#231f20" stroke-width="0.9"/>
<line x1="348.54" y1="497.3" x2="348.54" y2="499.5" stroke="#231f20" stroke-width="0.9"/>
<line x1="354.42" y1="497.3" x2="354.42" y2="499.5" stroke="#231f20" stroke-width="0.9"/>
<line x1="360.30" y1="497.3" x2="360.30" y2="500.5" stroke="#231f20" stroke-width="0.9"/>
<text x="351.19999999999993" y="511.9" font-size="7.6" fill="#231f20" text-anchor="start" font-weight="normal" font-style="normal" textLength="18.2" lengthAdjust="spacingAndGlyphs">3750</text>
<line x1="366.18" y1="497.3" x2="366.18" y2="499.5" stroke="#231f20" stroke-width="0.9"/>
<line x1="372.06" y1="497.3" x2="372.06" y2="499.5" stroke="#231f20" stroke-width="0.9"/>
<line x1="377.94" y1="497.3" x2="377.94" y2="499.5" stroke="#231f20" stroke-width="0.9"/>
<text x="384.3" y="511.5" font-size="7.2" fill="#231f20" text-anchor="middle" font-weight="normal" font-style="italic" >m/z</text>
<text x="166" y="347" font-size="7" fill="#231f20">x10<tspan font-size="4.6" dy="-3">4</tspan></text>
<text transform="translate(161.6,364.4) rotate(-90) scale(1.0,1)" x="0" y="0" font-size="4.4" fill="#777" text-anchor="start"  textLength="26.7" lengthAdjust="spacingAndGlyphs" stroke="#777" stroke-width="0">Intens. [a.u.]</text>
<text transform="translate(151.6,486.5) rotate(-90) scale(1.0,1)" x="0" y="0" font-size="9.6" fill="#231f20" text-anchor="start"  textLength="134" lengthAdjust="spacingAndGlyphs" stroke="#231f20" stroke-width="0.4">Mouse bone marrow lysate BAMS spectra</text>
<text x="246.9" y="526.4" font-size="9.6" fill="#231f20" textLength="74.4" lengthAdjust="spacingAndGlyphs" stroke="#231f20" stroke-width="0.3">Molecular mass (MH+)</text>
<path d="M184.6,493.44 L386,495.06 L386,496.8 L184.6,496.8 Z" fill="#f8e3e5"/>
<path d="M184.6,493.71 L386,495.17" stroke="#b5505f" stroke-width="0.9" fill="none"/>
<path d="M183.90,490.18 L184.02,490.18 L184.14,490.04 L184.25,489.95 L184.37,489.96 L184.49,489.87 L184.61,489.69 L184.72,489.65 L184.84,489.61 L184.96,489.48 L185.08,489.50 L185.19,489.47 L185.31,489.47 L185.43,489.38 L185.55,489.36 L185.67,489.29 L185.78,489.29 L185.90,489.24 L186.02,489.24 L186.14,489.23 L186.25,489.11 L186.37,488.97 L186.49,489.11 L186.61,489.22 L186.72,489.21 L186.84,489.32 L186.96,489.37 L187.08,489.19 L187.19,488.94 L187.31,489.01 L187.43,489.03 L187.55,488.93 L187.67,488.93 L187.78,489.06 L187.90,489.05 L188.02,489.17 L188.14,489.34 L188.25,489.42 L188.37,489.59 L188.49,489.66 L188.61,489.61 L188.72,489.75 L188.84,489.82 L188.96,489.81 L189.08,489.83 L189.20,489.93 L189.31,489.90 L189.43,489.92 L189.55,489.98 L189.67,490.12 L189.78,490.12 L189.90,490.28 L190.02,490.36 L190.14,490.54 L190.25,490.52 L190.37,490.65 L190.49,490.79 L190.61,490.96 L190.72,490.98 L190.84,491.11 L190.96,491.26 L191.08,491.35 L191.20,491.40 L191.31,491.53 L191.43,491.62 L191.55,491.60 L191.67,491.72 L191.78,491.81 L191.90,491.78 L192.02,491.90 L192.14,492.09 L192.25,492.01 L192.37,492.10 L192.49,492.20 L192.61,492.28 L192.73,492.40 L192.84,492.53 L192.96,492.65 L193.08,492.72 L193.20,492.76 L193.31,492.83 L193.43,492.97 L193.55,492.94 L193.67,493.01 L193.78,493.12 L193.90,493.07 L194.02,493.02 L194.14,493.09 L194.25,493.13 L194.37,493.12 L194.49,493.17 L194.61,493.25 L194.73,493.25 L194.84,493.49 L194.96,493.55 L195.08,493.58 L195.20,493.68 L195.31,493.75 L195.43,493.67 L195.55,493.63 L195.67,493.66 L195.78,493.54 L195.90,493.49 L196.02,493.44 L196.14,493.56 L196.26,493.65 L196.37,493.58 L196.49,493.66 L196.61,493.72 L196.73,493.64 L196.84,493.54 L196.96,493.57 L197.08,493.52 L197.20,493.43 L197.31,493.43 L197.43,493.31 L197.55,493.34 L197.67,493.17 L197.78,492.93 L197.90,492.79 L198.02,492.76 L198.14,492.38 L198.26,491.92 L198.37,491.69 L198.49,491.21 L198.61,490.47 L198.73,489.94 L198.84,489.44 L198.96,488.61 L199.08,487.63 L199.20,486.76 L199.31,485.70 L199.43,484.64 L199.55,483.61 L199.67,482.62 L199.79,481.64 L199.90,480.74 L200.02,480.01 L200.14,479.42 L200.26,478.92 L200.37,478.75 L200.49,478.91 L200.61,479.21 L200.73,479.80 L200.84,480.72 L200.96,481.62 L201.08,482.61 L201.20,483.77 L201.32,484.74 L201.43,485.78 L201.55,486.86 L201.67,487.85 L201.79,488.64 L201.90,489.35 L202.02,490.07 L202.14,490.59 L202.26,491.19 L202.37,491.60 L202.49,492.02 L202.61,492.28 L202.73,492.58 L202.84,492.64 L202.96,492.76 L203.08,492.91 L203.20,492.87 L203.32,492.89 L203.43,493.00 L203.55,493.10 L203.67,493.18 L203.79,493.32 L203.90,493.35 L204.02,493.30 L204.14,493.40 L204.26,493.34 L204.37,493.37 L204.49,493.43 L204.61,493.38 L204.73,493.16 L204.85,493.16 L204.96,493.09 L205.08,493.04 L205.20,492.86 L205.32,492.86 L205.43,492.92 L205.55,492.95 L205.67,492.84 L205.79,493.08 L205.90,493.08 L206.02,492.99 L206.14,492.82 L206.26,492.71 L206.37,492.74 L206.49,492.69 L206.61,492.72 L206.73,492.67 L206.85,492.67 L206.96,492.41 L207.08,492.43 L207.20,492.15 L207.32,492.04 L207.43,492.06 L207.55,492.02 L207.67,491.94 L207.79,492.01 L207.90,492.17 L208.02,491.93 L208.14,491.96 L208.26,491.89 L208.38,491.81 L208.49,491.72 L208.61,491.81 L208.73,491.74 L208.85,491.69 L208.96,491.76 L209.08,491.71 L209.20,491.67 L209.32,491.62 L209.43,491.58 L209.55,491.49 L209.67,491.38 L209.79,491.36 L209.90,491.33 L210.02,491.35 L210.14,491.35 L210.26,491.46 L210.38,491.40 L210.49,491.45 L210.61,491.44 L210.73,491.38 L210.85,491.27 L210.96,491.32 L211.08,491.38 L211.20,491.30 L211.32,491.31 L211.43,491.43 L211.55,491.35 L211.67,491.27 L211.79,491.38 L211.91,491.40 L212.02,491.32 L212.14,491.36 L212.26,491.43 L212.38,491.24 L212.49,491.29 L212.61,491.38 L212.73,491.36 L212.85,491.27 L212.96,491.37 L213.08,491.34 L213.20,491.23 L213.32,491.23 L213.43,491.22 L213.55,491.16 L213.67,491.11 L213.79,491.09 L213.91,491.01 L214.02,490.81 L214.14,490.72 L214.26,490.55 L214.38,490.22 L214.49,490.04 L214.61,489.77 L214.73,489.32 L214.85,488.81 L214.96,488.22 L215.08,487.35 L215.20,486.34 L215.32,485.37 L215.44,484.14 L215.55,482.77 L215.67,481.41 L215.79,479.59 L215.91,477.73 L216.02,475.73 L216.14,473.56 L216.26,471.15 L216.38,469.13 L216.49,466.66 L216.61,464.18 L216.73,461.96 L216.85,459.82 L216.97,457.74 L217.08,456.24 L217.20,455.07 L217.32,454.33 L217.44,454.20 L217.55,454.71 L217.67,455.59 L217.79,457.06 L217.91,458.79 L218.02,460.80 L218.14,462.93 L218.26,465.29 L218.38,467.65 L218.49,470.19 L218.61,472.52 L218.73,474.73 L218.85,476.90 L218.97,478.96 L219.08,480.77 L219.20,482.52 L219.32,484.19 L219.44,485.51 L219.55,486.68 L219.67,487.61 L219.79,488.48 L219.91,489.19 L220.02,489.79 L220.14,490.35 L220.26,490.82 L220.38,491.26 L220.50,491.67 L220.61,492.03 L220.73,492.26 L220.85,492.64 L220.97,492.77 L221.08,492.97 L221.20,492.98 L221.32,493.09 L221.44,493.13 L221.55,493.27 L221.67,493.27 L221.79,493.44 L221.91,493.56 L222.02,493.64 L222.14,493.64 L222.26,493.70 L222.38,493.67 L222.50,493.57 L222.61,493.55 L222.73,493.54 L222.85,493.63 L222.97,493.68 L223.08,493.78 L223.20,493.78 L223.32,493.74 L223.44,493.82 L223.55,493.87 L223.67,493.96 L223.79,493.98 L223.91,494.19 L224.03,494.09 L224.14,494.11 L224.26,494.02 L224.38,494.07 L224.50,494.05 L224.61,494.07 L224.73,494.04 L224.85,494.09 L224.97,494.22 L225.08,494.12 L225.20,494.07 L225.32,494.09 L225.44,494.12 L225.55,493.97 L225.67,494.10 L225.79,494.10 L225.91,494.20 L226.03,494.14 L226.14,494.14 L226.26,494.12 L226.38,494.17 L226.50,494.14 L226.61,494.12 L226.73,494.14 L226.85,494.18 L226.97,494.16 L227.08,494.12 L227.20,494.06 L227.32,494.22 L227.44,494.18 L227.56,494.13 L227.67,494.27 L227.79,494.49 L227.91,494.36 L228.03,494.26 L228.14,494.40 L228.26,494.28 L228.38,494.20 L228.50,494.14 L228.61,494.21 L228.73,494.10 L228.85,494.20 L228.97,494.22 L229.08,494.33 L229.20,494.26 L229.32,494.29 L229.44,494.28 L229.56,494.23 L229.67,494.18 L229.79,494.26 L229.91,494.32 L230.03,494.29 L230.14,494.44 L230.26,494.48 L230.38,494.46 L230.50,494.50 L230.61,494.45 L230.73,494.43 L230.85,494.48 L230.97,494.53 L231.09,494.34 L231.20,494.50 L231.32,494.37 L231.44,494.28 L231.56,494.23 L231.67,494.28 L231.79,494.24 L231.91,494.43 L232.03,494.44 L232.14,494.55 L232.26,494.65 L232.38,494.66 L232.50,494.44 L232.62,494.44 L232.73,494.41 L232.85,494.33 L232.97,494.25 L233.09,494.33 L233.20,494.38 L233.32,494.35 L233.44,494.37 L233.56,494.36 L233.67,494.37 L233.79,494.31 L233.91,494.34 L234.03,494.36 L234.14,494.36 L234.26,494.24 L234.38,494.34 L234.50,494.19 L234.62,494.20 L234.73,494.24 L234.85,494.38 L234.97,494.31 L235.09,494.42 L235.20,494.50 L235.32,494.56 L235.44,494.56 L235.56,494.64 L235.67,494.57 L235.79,494.41 L235.91,494.28 L236.03,494.23 L236.15,494.21 L236.26,494.28 L236.38,494.31 L236.50,494.23 L236.62,494.20 L236.73,494.19 L236.85,494.19 L236.97,494.28 L237.09,494.47 L237.20,494.54 L237.32,494.51 L237.44,494.39 L237.56,494.36 L237.67,494.22 L237.79,494.09 L237.91,494.10 L238.03,494.12 L238.15,494.08 L238.26,494.19 L238.38,494.29 L238.50,494.29 L238.62,494.41 L238.73,494.47 L238.85,494.44 L238.97,494.43 L239.09,494.48 L239.20,494.47 L239.32,494.56 L239.44,494.55 L239.56,494.54 L239.68,494.47 L239.79,494.45 L239.91,494.31 L240.03,494.37 L240.15,494.43 L240.26,494.41 L240.38,494.36 L240.50,494.37 L240.62,494.17 L240.73,494.16 L240.85,494.13 L240.97,494.11 L241.09,494.14 L241.20,494.36 L241.32,494.43 L241.44,494.49 L241.56,494.50 L241.68,494.47 L241.79,494.41 L241.91,494.35 L242.03,494.33 L242.15,494.54 L242.26,494.54 L242.38,494.55 L242.50,494.62 L242.62,494.51 L242.73,494.46 L242.85,494.55 L242.97,494.63 L243.09,494.47 L243.21,494.66 L243.32,494.53 L243.44,494.42 L243.56,494.33 L243.68,494.48 L243.79,494.47 L243.91,494.40 L244.03,494.52 L244.15,494.59 L244.26,494.52 L244.38,494.42 L244.50,494.52 L244.62,494.38 L244.73,494.40 L244.85,494.33 L244.97,494.34 L245.09,494.46 L245.21,494.41 L245.32,494.19 L245.44,494.30 L245.56,494.33 L245.68,494.14 L245.79,494.33 L245.91,494.61 L246.03,494.64 L246.15,494.68 L246.26,494.81 L246.38,494.67 L246.50,494.52 L246.62,494.52 L246.74,494.44 L246.85,494.28 L246.97,494.24 L247.09,494.19 L247.21,494.11 L247.32,494.08 L247.44,494.26 L247.56,494.28 L247.68,494.35 L247.79,494.27 L247.91,494.30 L248.03,494.31 L248.15,494.34 L248.27,494.25 L248.38,494.39 L248.50,494.45 L248.62,494.42 L248.74,494.52 L248.85,494.52 L248.97,494.35 L249.09,494.25 L249.21,494.16 L249.32,494.04 L249.44,494.06 L249.56,494.16 L249.68,494.11 L249.79,494.01 L249.91,493.89 L250.03,493.87 L250.15,493.74 L250.27,493.71 L250.38,493.56 L250.50,493.50 L250.62,493.46 L250.74,493.29 L250.85,493.01 L250.97,492.92 L251.09,492.71 L251.21,492.41 L251.32,492.39 L251.44,492.46 L251.56,492.43 L251.68,492.36 L251.80,492.22 L251.91,491.96 L252.03,491.82 L252.15,491.67 L252.27,491.72 L252.38,491.86 L252.50,491.95 L252.62,492.12 L252.74,492.52 L252.85,492.73 L252.97,492.85 L253.09,493.28 L253.21,493.41 L253.32,493.42 L253.44,493.60 L253.56,493.84 L253.68,493.81 L253.80,493.94 L253.91,493.94 L254.03,493.92 L254.15,494.01 L254.27,494.11 L254.38,494.09 L254.50,494.10 L254.62,494.14 L254.74,494.05 L254.85,493.91 L254.97,493.98 L255.09,494.14 L255.21,494.28 L255.33,494.35 L255.44,494.34 L255.56,494.44 L255.68,494.43 L255.80,494.43 L255.91,494.40 L256.03,494.49 L256.15,494.42 L256.27,494.37 L256.38,494.24 L256.50,494.22 L256.62,494.17 L256.74,494.11 L256.85,494.18 L256.97,494.27 L257.09,494.36 L257.21,494.44 L257.33,494.51 L257.44,494.32 L257.56,494.16 L257.68,494.12 L257.80,494.17 L257.91,494.04 L258.03,494.34 L258.15,494.49 L258.27,494.41 L258.38,494.45 L258.50,494.59 L258.62,494.50 L258.74,494.42 L258.86,494.48 L258.97,494.39 L259.09,494.32 L259.21,494.30 L259.33,494.27 L259.44,494.32 L259.56,494.44 L259.68,494.60 L259.80,494.70 L259.91,494.81 L260.03,494.70 L260.15,494.59 L260.27,494.51 L260.38,494.48 L260.50,494.48 L260.62,494.57 L260.74,494.61 L260.86,494.67 L260.97,494.63 L261.09,494.53 L261.21,494.64 L261.33,494.62 L261.44,494.66 L261.56,494.61 L261.68,494.73 L261.80,494.72 L261.91,494.69 L262.03,494.44 L262.15,494.44 L262.27,494.31 L262.39,494.18 L262.50,494.32 L262.62,494.41 L262.74,494.44 L262.86,494.60 L262.97,494.54 L263.09,494.38 L263.21,494.44 L263.33,494.35 L263.44,494.31 L263.56,494.31 L263.68,494.38 L263.80,494.31 L263.92,494.43 L264.03,494.27 L264.15,494.28 L264.27,494.12 L264.39,494.20 L264.50,494.14 L264.62,494.17 L264.74,494.35 L264.86,494.50 L264.97,494.36 L265.09,494.27 L265.21,494.24 L265.33,494.05 L265.44,493.91 L265.56,493.98 L265.68,494.04 L265.80,494.15 L265.92,494.07 L266.03,494.02 L266.15,493.86 L266.27,493.81 L266.39,493.58 L266.50,493.27 L266.62,492.85 L266.74,492.39 L266.86,491.70 L266.97,491.11 L267.09,490.28 L267.21,489.64 L267.33,488.74 L267.45,487.82 L267.56,486.92 L267.68,486.46 L267.80,485.89 L267.92,485.81 L268.03,485.87 L268.15,486.11 L268.27,486.48 L268.39,487.04 L268.50,487.56 L268.62,488.35 L268.74,489.03 L268.86,489.84 L268.97,490.62 L269.09,491.37 L269.21,491.93 L269.33,492.37 L269.45,492.62 L269.56,492.77 L269.68,492.95 L269.80,493.04 L269.92,493.25 L270.03,493.46 L270.15,493.55 L270.27,493.55 L270.39,493.63 L270.50,493.53 L270.62,493.52 L270.74,493.51 L270.86,493.51 L270.98,493.40 L271.09,493.43 L271.21,493.18 L271.33,493.06 L271.45,492.87 L271.56,492.75 L271.68,492.71 L271.80,492.75 L271.92,492.83 L272.03,492.87 L272.15,492.80 L272.27,492.72 L272.39,492.78 L272.50,492.79 L272.62,492.88 L272.74,493.14 L272.86,493.24 L272.98,493.29 L273.09,493.40 L273.21,493.53 L273.33,493.52 L273.45,493.68 L273.56,493.83 L273.68,493.83 L273.80,493.86 L273.92,493.84 L274.03,493.91 L274.15,494.03 L274.27,494.07 L274.39,494.07 L274.51,494.27 L274.62,494.33 L274.74,494.25 L274.86,494.45 L274.98,494.56 L275.09,494.67 L275.21,494.61 L275.33,494.76 L275.45,494.67 L275.56,494.56 L275.68,494.45 L275.80,494.39 L275.92,494.30 L276.03,494.35 L276.15,494.55 L276.27,494.47 L276.39,494.53 L276.51,494.39 L276.62,494.41 L276.74,494.33 L276.86,494.40 L276.98,494.31 L277.09,494.30 L277.21,494.26 L277.33,494.33 L277.45,494.45 L277.56,494.45 L277.68,494.58 L277.80,494.58 L277.92,494.51 L278.04,494.57 L278.15,494.77 L278.27,494.70 L278.39,494.64 L278.51,494.63 L278.62,494.53 L278.74,494.38 L278.86,494.32 L278.98,494.43 L279.09,494.44 L279.21,494.41 L279.33,494.42 L279.45,494.54 L279.57,494.47 L279.68,494.53 L279.80,494.50 L279.92,494.56 L280.04,494.58 L280.15,494.57 L280.27,494.47 L280.39,494.51 L280.51,494.49 L280.62,494.41 L280.74,494.42 L280.86,494.48 L280.98,494.39 L281.09,494.35 L281.21,494.42 L281.33,494.39 L281.45,494.45 L281.57,494.48 L281.68,494.41 L281.80,494.38 L281.92,494.49 L282.04,494.40 L282.15,494.48 L282.27,494.58 L282.39,494.61 L282.51,494.59 L282.62,494.52 L282.74,494.47 L282.86,494.40 L282.98,494.37 L283.10,494.20 L283.21,494.21 L283.33,494.30 L283.45,494.35 L283.57,494.53 L283.68,494.65 L283.80,494.68 L283.92,494.52 L284.04,494.44 L284.15,494.33 L284.27,494.28 L284.39,494.32 L284.51,494.30 L284.62,494.28 L284.74,494.28 L284.86,494.05 L284.98,494.06 L285.10,494.16 L285.21,494.23 L285.33,494.16 L285.45,494.37 L285.57,494.41 L285.68,494.29 L285.80,494.32 L285.92,494.27 L286.04,494.22 L286.15,494.26 L286.27,494.42 L286.39,494.49 L286.51,494.57 L286.63,494.65 L286.74,494.55 L286.86,494.54 L286.98,494.45 L287.10,494.38 L287.21,494.47 L287.33,494.50 L287.45,494.43 L287.57,494.46 L287.68,494.57 L287.80,494.36 L287.92,494.27 L288.04,494.23 L288.15,494.27 L288.27,494.11 L288.39,494.20 L288.51,494.32 L288.63,494.40 L288.74,494.38 L288.86,494.39 L288.98,494.40 L289.10,494.36 L289.21,494.48 L289.33,494.40 L289.45,494.60 L289.57,494.69 L289.68,494.65 L289.80,494.57 L289.92,494.56 L290.04,494.42 L290.16,494.46 L290.27,494.51 L290.39,494.56 L290.51,494.62 L290.63,494.63 L290.74,494.60 L290.86,494.48 L290.98,494.40 L291.10,494.47 L291.21,494.54 L291.33,494.40 L291.45,494.60 L291.57,494.58 L291.69,494.59 L291.80,494.51 L291.92,494.55 L292.04,494.49 L292.16,494.42 L292.27,494.41 L292.39,494.52 L292.51,494.41 L292.63,494.39 L292.74,494.37 L292.86,494.27 L292.98,494.29 L293.10,494.43 L293.21,494.41 L293.33,494.53 L293.45,494.59 L293.57,494.60 L293.69,494.68 L293.80,494.68 L293.92,494.63 L294.04,494.52 L294.16,494.59 L294.27,494.44 L294.39,494.45 L294.51,494.57 L294.63,494.61 L294.74,494.44 L294.86,494.46 L294.98,494.41 L295.10,494.25 L295.22,494.20 L295.33,494.26 L295.45,494.43 L295.57,494.52 L295.69,494.56 L295.80,494.65 L295.92,494.60 L296.04,494.41 L296.16,494.36 L296.27,494.26 L296.39,494.30 L296.51,494.28 L296.63,494.36 L296.74,494.41 L296.86,494.50 L296.98,494.47 L297.10,494.48 L297.22,494.52 L297.33,494.47 L297.45,494.56 L297.57,494.54 L297.69,494.62 L297.80,494.61 L297.92,494.57 L298.04,494.60 L298.16,494.65 L298.27,494.57 L298.39,494.43 L298.51,494.43 L298.63,494.33 L298.75,494.11 L298.86,494.25 L298.98,494.36 L299.10,494.47 L299.22,494.43 L299.33,494.56 L299.45,494.41 L299.57,494.30 L299.69,494.25 L299.80,494.36 L299.92,494.44 L300.04,494.37 L300.16,494.37 L300.27,494.32 L300.39,494.28 L300.51,494.23 L300.63,494.40 L300.75,494.48 L300.86,494.67 L300.98,494.66 L301.10,494.67 L301.22,494.63 L301.33,494.59 L301.45,494.38 L301.57,494.38 L301.69,494.30 L301.80,494.48 L301.92,494.57 L302.04,494.51 L302.16,494.59 L302.28,494.66 L302.39,494.45 L302.51,494.43 L302.63,494.50 L302.75,494.51 L302.86,494.62 L302.98,494.75 L303.10,494.80 L303.22,494.84 L303.33,494.77 L303.45,494.63 L303.57,494.61 L303.69,494.33 L303.80,494.34 L303.92,494.32 L304.04,494.31 L304.16,494.26 L304.28,494.47 L304.39,494.45 L304.51,494.39 L304.63,494.38 L304.75,494.30 L304.86,494.29 L304.98,494.35 L305.10,494.28 L305.22,494.34 L305.33,494.37 L305.45,494.28 L305.57,494.14 L305.69,494.35 L305.81,494.37 L305.92,494.43 L306.04,494.50 L306.16,494.74 L306.28,494.66 L306.39,494.82 L306.51,494.77 L306.63,494.71 L306.75,494.52 L306.86,494.59 L306.98,494.34 L307.10,494.41 L307.22,494.53 L307.34,494.63 L307.45,494.61 L307.57,494.66 L307.69,494.55 L307.81,494.60 L307.92,494.57 L308.04,494.46 L308.16,494.46 L308.28,494.48 L308.39,494.44 L308.51,494.34 L308.63,494.50 L308.75,494.50 L308.86,494.44 L308.98,494.22 L309.10,494.25 L309.22,494.09 L309.34,494.14 L309.45,494.26 L309.57,494.30 L309.69,494.34 L309.81,494.40 L309.92,494.45 L310.04,494.41 L310.16,494.44 L310.28,494.49 L310.39,494.52 L310.51,494.32 L310.63,494.32 L310.75,494.38 L310.87,494.40 L310.98,494.41 L311.10,494.53 L311.22,494.45 L311.34,494.47 L311.45,494.28 L311.57,494.30 L311.69,494.30 L311.81,494.33 L311.92,494.31 L312.04,494.48 L312.16,494.43 L312.28,494.37 L312.39,494.54 L312.51,494.54 L312.63,494.49 L312.75,494.51 L312.87,494.49 L312.98,494.41 L313.10,494.42 L313.22,494.41 L313.34,494.33 L313.45,494.39 L313.57,494.26 L313.69,494.29 L313.81,494.21 L313.92,494.31 L314.04,494.31 L314.16,494.38 L314.28,494.19 L314.40,494.21 L314.51,494.18 L314.63,494.08 L314.75,494.12 L314.87,494.30 L314.98,494.33 L315.10,494.30 L315.22,494.32 L315.34,494.34 L315.45,494.26 L315.57,494.25 L315.69,494.23 L315.81,494.30 L315.92,494.30 L316.04,494.27 L316.16,494.30 L316.28,494.28 L316.40,494.30 L316.51,494.26 L316.63,494.38 L316.75,494.38 L316.87,494.36 L316.98,494.33 L317.10,494.28 L317.22,494.19 L317.34,494.10 L317.45,494.16 L317.57,494.27 L317.69,494.30 L317.81,494.33 L317.93,494.48 L318.04,494.42 L318.16,494.29 L318.28,494.29 L318.40,494.30 L318.51,494.22 L318.63,494.25 L318.75,494.14 L318.87,494.22 L318.98,494.19 L319.10,494.18 L319.22,494.31 L319.34,494.52 L319.45,494.33 L319.57,494.45 L319.69,494.43 L319.81,494.37 L319.93,494.31 L320.04,494.58 L320.16,494.52 L320.28,494.50 L320.40,494.53 L320.51,494.44 L320.63,494.29 L320.75,494.10 L320.87,494.18 L320.98,494.00 L321.10,493.98 L321.22,494.01 L321.34,494.25 L321.46,494.12 L321.57,494.28 L321.69,494.37 L321.81,494.29 L321.93,494.10 L322.04,494.25 L322.16,494.16 L322.28,494.14 L322.40,494.12 L322.51,494.02 L322.63,494.08 L322.75,494.01 L322.87,494.18 L322.99,494.25 L323.10,494.47 L323.22,494.22 L323.34,494.26 L323.46,494.12 L323.57,494.14 L323.69,494.10 L323.81,494.21 L323.93,494.22 L324.04,494.12 L324.16,493.98 L324.28,493.89 L324.40,493.97 L324.51,494.05 L324.63,494.13 L324.75,494.15 L324.87,494.20 L324.99,494.15 L325.10,494.01 L325.22,494.03 L325.34,494.15 L325.46,494.07 L325.57,494.01 L325.69,494.02 L325.81,493.87 L325.93,493.79 L326.04,493.82 L326.16,493.78 L326.28,493.65 L326.40,493.60 L326.52,493.57 L326.63,493.47 L326.75,493.31 L326.87,493.14 L326.99,493.12 L327.10,492.92 L327.22,492.80 L327.34,492.67 L327.46,492.64 L327.57,492.35 L327.69,492.20 L327.81,492.09 L327.93,492.04 L328.04,491.90 L328.16,491.84 L328.28,491.58 L328.40,491.31 L328.52,491.23 L328.63,491.13 L328.75,491.14 L328.87,491.33 L328.99,491.32 L329.10,491.17 L329.22,491.24 L329.34,491.04 L329.46,491.01 L329.57,491.16 L329.69,491.20 L329.81,491.17 L329.93,491.35 L330.05,491.35 L330.16,491.33 L330.28,491.45 L330.40,491.54 L330.52,491.71 L330.63,491.84 L330.75,491.86 L330.87,491.94 L330.99,491.92 L331.10,491.73 L331.22,491.67 L331.34,491.68 L331.46,491.48 L331.57,491.44 L331.69,491.36 L331.81,491.19 L331.93,491.09 L332.05,491.16 L332.16,491.18 L332.28,491.28 L332.40,491.25 L332.52,491.16 L332.63,491.05 L332.75,490.82 L332.87,490.66 L332.99,490.50 L333.10,490.40 L333.22,490.26 L333.34,490.19 L333.46,490.03 L333.58,489.83 L333.69,489.82 L333.81,489.70 L333.93,489.52 L334.05,489.38 L334.16,489.48 L334.28,489.19 L334.40,489.22 L334.52,489.34 L334.63,489.31 L334.75,489.36 L334.87,489.61 L334.99,489.47 L335.10,489.33 L335.22,489.30 L335.34,489.22 L335.46,489.03 L335.58,489.10 L335.69,488.96 L335.81,488.84 L335.93,488.60 L336.05,488.52 L336.16,488.10 L336.28,487.72 L336.40,487.18 L336.52,486.52 L336.63,485.59 L336.75,484.68 L336.87,483.57 L336.99,482.24 L337.11,480.68 L337.22,478.90 L337.34,476.76 L337.46,474.68 L337.58,472.36 L337.69,469.96 L337.81,467.37 L337.93,464.93 L338.05,462.46 L338.16,460.36 L338.28,458.76 L338.40,457.58 L338.52,457.17 L338.64,457.48 L338.75,458.41 L338.87,459.82 L338.99,461.87 L339.11,464.16 L339.22,466.64 L339.34,469.35 L339.46,471.87 L339.58,474.33 L339.69,476.64 L339.81,478.78 L339.93,480.53 L340.05,482.21 L340.16,483.79 L340.28,485.04 L340.40,486.27 L340.52,487.30 L340.64,488.18 L340.75,488.91 L340.87,489.54 L340.99,489.69 L341.11,489.79 L341.22,489.91 L341.34,489.76 L341.46,489.75 L341.58,489.89 L341.69,489.94 L341.81,489.92 L341.93,489.92 L342.05,489.95 L342.17,489.76 L342.28,489.69 L342.40,489.50 L342.52,489.52 L342.64,489.31 L342.75,489.23 L342.87,488.99 L342.99,488.98 L343.11,488.63 L343.22,488.43 L343.34,488.33 L343.46,488.19 L343.58,487.98 L343.69,487.90 L343.81,487.69 L343.93,487.51 L344.05,487.55 L344.17,487.51 L344.28,487.49 L344.40,487.56 L344.52,487.61 L344.64,487.57 L344.75,487.44 L344.87,487.27 L344.99,487.39 L345.11,487.21 L345.22,487.10 L345.34,486.99 L345.46,486.97 L345.58,486.67 L345.70,486.65 L345.81,486.57 L345.93,486.57 L346.05,486.36 L346.17,486.18 L346.28,485.93 L346.40,485.63 L346.52,485.36 L346.64,485.17 L346.75,484.82 L346.87,484.45 L346.99,484.26 L347.11,483.81 L347.22,483.60 L347.34,483.53 L347.46,483.40 L347.58,483.07 L347.70,482.86 L347.81,482.57 L347.93,482.23 L348.05,481.83 L348.17,481.29 L348.28,480.97 L348.40,480.48 L348.52,479.96 L348.64,479.33 L348.75,479.12 L348.87,478.52 L348.99,478.13 L349.11,477.66 L349.23,477.31 L349.34,476.44 L349.46,476.02 L349.58,475.53 L349.70,474.90 L349.81,474.45 L349.93,474.21 L350.05,473.73 L350.17,473.22 L350.28,472.97 L350.40,472.60 L350.52,472.29 L350.64,472.00 L350.75,471.81 L350.87,471.62 L350.99,471.47 L351.11,471.18 L351.23,470.90 L351.34,470.43 L351.46,469.84 L351.58,469.03 L351.70,468.29 L351.81,467.29 L351.93,466.27 L352.05,465.01 L352.17,463.53 L352.28,461.72 L352.40,459.49 L352.52,456.89 L352.64,453.79 L352.76,450.45 L352.87,446.46 L352.99,442.01 L353.11,436.89 L353.23,431.41 L353.34,425.14 L353.46,418.43 L353.58,411.39 L353.70,404.16 L353.81,396.67 L353.93,389.36 L354.05,382.22 L354.17,375.50 L354.29,369.59 L354.40,364.85 L354.52,361.32 L354.64,359.51 L354.76,359.73 L354.87,361.43 L354.99,364.61 L355.11,369.46 L355.23,375.56 L355.34,382.33 L355.46,389.84 L355.58,397.95 L355.70,406.06 L355.81,414.00 L355.93,421.78 L356.05,429.19 L356.17,436.19 L356.29,442.53 L356.40,448.42 L356.52,453.73 L356.64,458.54 L356.76,462.58 L356.87,466.44 L356.99,469.80 L357.11,472.67 L357.23,475.09 L357.34,477.28 L357.46,478.91 L357.58,480.30 L357.70,481.50 L357.82,482.55 L357.93,483.21 L358.05,483.87 L358.17,484.39 L358.29,484.74 L358.40,485.02 L358.52,485.36 L358.64,485.58 L358.76,485.83 L358.87,486.07 L358.99,486.30 L359.11,486.57 L359.23,486.65 L359.34,486.78 L359.46,486.96 L359.58,487.05 L359.70,487.11 L359.82,487.27 L359.93,487.35 L360.05,487.27 L360.17,487.27 L360.29,487.22 L360.40,487.19 L360.52,487.03 L360.64,487.06 L360.76,487.25 L360.87,487.45 L360.99,487.66 L361.11,487.81 L361.23,487.95 L361.35,487.89 L361.46,487.97 L361.58,488.04 L361.70,488.23 L361.82,488.40 L361.93,488.52 L362.05,488.54 L362.17,488.68 L362.29,488.76 L362.40,488.72 L362.52,488.85 L362.64,489.01 L362.76,489.11 L362.87,489.30 L362.99,489.48 L363.11,489.59 L363.23,489.69 L363.35,489.79 L363.46,489.93 L363.58,490.07 L363.70,490.08 L363.82,490.20 L363.93,490.25 L364.05,490.10 L364.17,490.02 L364.29,490.14 L364.40,490.07 L364.52,490.12 L364.64,490.16 L364.76,490.31 L364.88,490.29 L364.99,490.27 L365.11,490.31 L365.23,490.36 L365.35,490.40 L365.46,490.42 L365.58,490.55 L365.70,490.52 L365.82,490.61 L365.93,490.57 L366.05,490.67 L366.17,490.61 L366.29,490.57 L366.40,490.51 L366.52,490.42 L366.64,490.45 L366.76,490.44 L366.88,490.41 L366.99,490.54 L367.11,490.57 L367.23,490.40 L367.35,490.53 L367.46,490.72 L367.58,490.72 L367.70,490.62 L367.82,490.71 L367.93,490.77 L368.05,490.72 L368.17,490.78 L368.29,491.01 L368.41,491.04 L368.52,491.15 L368.64,491.14 L368.76,491.01 L368.88,491.02 L368.99,491.08 L369.11,490.87 L369.23,491.01 L369.35,491.21 L369.46,491.32 L369.58,491.34 L369.70,491.42 L369.82,491.38 L369.94,491.30 L370.05,491.19 L370.17,491.18 L370.29,491.29 L370.41,491.34 L370.52,491.33 L370.64,491.48 L370.76,491.57 L370.88,491.57 L370.99,491.60 L371.11,491.78 L371.23,491.84 L371.35,491.68 L371.46,491.63 L371.58,491.69 L371.70,491.65 L371.82,491.55 L371.94,491.76 L372.05,491.81 L372.17,491.83 L372.29,491.87 L372.41,491.94 L372.52,491.97 L372.64,492.18 L372.76,492.16 L372.88,492.14 L372.99,492.12 L373.11,492.17 L373.23,492.00 L373.35,492.00 L373.47,492.14 L373.58,492.32 L373.70,492.24 L373.82,492.33 L373.94,492.29 L374.05,492.04 L374.17,491.94 L374.29,492.02 L374.41,491.96 L374.52,491.99 L374.64,492.20 L374.76,492.09 L374.88,491.98 L374.99,491.94 L375.11,492.02 L375.23,491.89 L375.35,491.92 L375.47,492.07 L375.58,491.98 L375.70,491.97 L375.82,492.01 L375.94,492.11 L376.05,492.02 L376.17,492.09 L376.29,492.13 L376.41,492.27 L376.52,492.28 L376.64,492.41 L376.76,492.55 L376.88,492.52 L377.00,492.44 L377.11,492.35 L377.23,492.35 L377.35,492.31 L377.47,492.36 L377.58,492.29 L377.70,492.24 L377.82,492.19 L377.94,492.13 L378.05,492.17 L378.17,492.39 L378.29,492.67 L378.41,492.83 L378.52,493.04 L378.64,493.06 L378.76,492.91 L378.88,492.82 L379.00,492.73 L379.11,492.73 L379.23,492.80 L379.35,492.91 L379.47,492.99 L379.58,493.04 L379.70,493.03 L379.82,493.02 L379.94,493.19 L380.05,493.31 L380.17,493.41 L380.29,493.36 L380.41,493.42 L380.53,493.29 L380.64,493.15 L380.76,493.11 L380.88,493.28 L381.00,493.31 L381.11,493.45 L381.23,493.56 L381.35,493.53 L381.47,493.50 L381.58,493.46 L381.70,493.38 L381.82,493.30 L381.94,493.44 L382.05,493.49 L382.17,493.52 L382.29,493.51 L382.41,493.82 L382.53,493.84 L382.64,493.88 L382.76,494.02 L382.88,494.06 L383.00,493.91 L383.11,493.92 L383.23,494.04 L383.35,494.07 L383.47,494.21 L383.58,494.21 L383.70,494.20 L383.82,494.11" fill="none" stroke="#a8a8a8" stroke-width="0.8"/>
<path d="M183.90,490.34 L184.02,490.41 L184.14,490.21 L184.25,490.07 L184.37,489.98 L184.49,489.82 L184.61,489.57 L184.72,489.65 L184.84,489.60 L184.96,489.53 L185.08,489.54 L185.19,489.55 L185.31,489.43 L185.43,489.45 L185.55,489.34 L185.67,489.31 L185.78,489.21 L185.90,489.26 L186.02,489.17 L186.14,489.16 L186.25,489.08 L186.37,489.04 L186.49,489.03 L186.61,489.02 L186.72,488.90 L186.84,489.02 L186.96,489.16 L187.08,489.20 L187.19,489.21 L187.31,489.34 L187.43,489.19 L187.55,489.05 L187.67,488.97 L187.78,489.04 L187.90,489.09 L188.02,489.14 L188.14,489.31 L188.25,489.40 L188.37,489.45 L188.49,489.38 L188.61,489.54 L188.72,489.60 L188.84,489.67 L188.96,489.69 L189.08,489.89 L189.20,489.83 L189.31,489.95 L189.43,489.92 L189.55,490.00 L189.67,490.16 L189.78,490.31 L189.90,490.20 L190.02,490.35 L190.14,490.44 L190.25,490.29 L190.37,490.37 L190.49,490.55 L190.61,490.70 L190.72,490.82 L190.84,491.07 L190.96,491.19 L191.08,491.27 L191.20,491.27 L191.31,491.48 L191.43,491.65 L191.55,491.89 L191.67,491.89 L191.78,492.02 L191.90,491.94 L192.02,491.93 L192.14,491.90 L192.25,492.03 L192.37,492.12 L192.49,492.38 L192.61,492.52 L192.73,492.43 L192.84,492.51 L192.96,492.55 L193.08,492.56 L193.20,492.62 L193.31,492.74 L193.43,492.84 L193.55,492.98 L193.67,493.03 L193.78,493.10 L193.90,493.20 L194.02,493.18 L194.14,493.23 L194.25,493.18 L194.37,493.21 L194.49,493.26 L194.61,493.43 L194.73,493.43 L194.84,493.56 L194.96,493.58 L195.08,493.67 L195.20,493.69 L195.31,493.75 L195.43,493.88 L195.55,493.90 L195.67,493.85 L195.78,493.76 L195.90,493.68 L196.02,493.43 L196.14,493.40 L196.26,493.46 L196.37,493.40 L196.49,493.51 L196.61,493.60 L196.73,493.67 L196.84,493.60 L196.96,493.82 L197.08,493.65 L197.20,493.68 L197.31,493.61 L197.43,493.45 L197.55,493.17 L197.67,493.11 L197.78,493.00 L197.90,492.77 L198.02,492.69 L198.14,492.45 L198.26,492.12 L198.37,491.79 L198.49,491.46 L198.61,491.07 L198.73,490.75 L198.84,490.34 L198.96,489.75 L199.08,489.09 L199.20,488.36 L199.31,487.68 L199.43,486.96 L199.55,486.33 L199.67,485.61 L199.79,485.10 L199.90,484.48 L200.02,484.12 L200.14,483.81 L200.26,483.72 L200.37,483.67 L200.49,483.77 L200.61,484.03 L200.73,484.29 L200.84,484.82 L200.96,485.23 L201.08,485.87 L201.20,486.33 L201.32,487.11 L201.43,487.66 L201.55,488.46 L201.67,489.07 L201.79,489.71 L201.90,490.17 L202.02,490.67 L202.14,491.00 L202.26,491.32 L202.37,491.68 L202.49,492.05 L202.61,492.39 L202.73,492.67 L202.84,493.04 L202.96,493.15 L203.08,493.20 L203.20,493.27 L203.32,493.28 L203.43,493.16 L203.55,493.24 L203.67,493.33 L203.79,493.31 L203.90,493.37 L204.02,493.47 L204.14,493.42 L204.26,493.31 L204.37,493.45 L204.49,493.45 L204.61,493.45 L204.73,493.42 L204.85,493.38 L204.96,493.29 L205.08,493.33 L205.20,493.20 L205.32,493.26 L205.43,493.17 L205.55,493.01 L205.67,492.93 L205.79,492.86 L205.90,492.93 L206.02,492.96 L206.14,492.90 L206.26,492.85 L206.37,492.88 L206.49,492.66 L206.61,492.51 L206.73,492.50 L206.85,492.51 L206.96,492.31 L207.08,492.42 L207.20,492.46 L207.32,492.46 L207.43,492.27 L207.55,492.37 L207.67,492.11 L207.79,492.07 L207.90,492.09 L208.02,492.23 L208.14,492.15 L208.26,492.10 L208.38,492.07 L208.49,491.90 L208.61,491.75 L208.73,491.64 L208.85,491.66 L208.96,491.61 L209.08,491.64 L209.20,491.52 L209.32,491.44 L209.43,491.52 L209.55,491.36 L209.67,491.23 L209.79,491.32 L209.90,491.51 L210.02,491.36 L210.14,491.46 L210.26,491.53 L210.38,491.61 L210.49,491.40 L210.61,491.48 L210.73,491.54 L210.85,491.32 L210.96,491.07 L211.08,491.08 L211.20,491.08 L211.32,491.01 L211.43,491.35 L211.55,491.49 L211.67,491.62 L211.79,491.68 L211.91,491.84 L212.02,491.68 L212.14,491.69 L212.26,491.65 L212.38,491.53 L212.49,491.49 L212.61,491.62 L212.73,491.75 L212.85,491.79 L212.96,491.80 L213.08,491.75 L213.20,491.63 L213.32,491.57 L213.43,491.56 L213.55,491.62 L213.67,491.65 L213.79,491.50 L213.91,491.28 L214.02,491.20 L214.14,491.06 L214.26,490.82 L214.38,490.83 L214.49,490.62 L214.61,490.37 L214.73,490.01 L214.85,489.68 L214.96,489.17 L215.08,488.78 L215.20,488.23 L215.32,487.62 L215.44,486.89 L215.55,486.10 L215.67,485.17 L215.79,484.06 L215.91,482.98 L216.02,481.94 L216.14,480.82 L216.26,479.79 L216.38,478.70 L216.49,477.63 L216.61,476.65 L216.73,475.64 L216.85,474.63 L216.97,474.09 L217.08,473.53 L217.20,473.00 L217.32,472.90 L217.44,472.98 L217.55,473.04 L217.67,473.34 L217.79,473.88 L217.91,474.34 L218.02,475.19 L218.14,476.05 L218.26,477.15 L218.38,478.28 L218.49,479.66 L218.61,480.90 L218.73,482.15 L218.85,483.20 L218.97,484.17 L219.08,485.06 L219.20,485.84 L219.32,486.72 L219.44,487.48 L219.55,488.24 L219.67,488.98 L219.79,489.63 L219.91,490.18 L220.02,490.67 L220.14,491.16 L220.26,491.51 L220.38,491.80 L220.50,492.00 L220.61,492.36 L220.73,492.68 L220.85,492.94 L220.97,493.24 L221.08,493.38 L221.20,493.32 L221.32,493.45 L221.44,493.45 L221.55,493.39 L221.67,493.55 L221.79,493.73 L221.91,493.75 L222.02,493.73 L222.14,493.83 L222.26,493.80 L222.38,493.80 L222.50,493.79 L222.61,494.01 L222.73,494.04 L222.85,494.02 L222.97,494.09 L223.08,494.07 L223.20,494.04 L223.32,494.02 L223.44,494.04 L223.55,494.05 L223.67,493.96 L223.79,493.91 L223.91,494.01 L224.03,494.17 L224.14,494.11 L224.26,494.25 L224.38,494.18 L224.50,494.10 L224.61,493.90 L224.73,493.90 L224.85,493.93 L224.97,493.99 L225.08,493.96 L225.20,494.15 L225.32,494.15 L225.44,494.05 L225.55,494.01 L225.67,494.10 L225.79,494.01 L225.91,494.18 L226.03,494.27 L226.14,494.37 L226.26,494.36 L226.38,494.42 L226.50,494.33 L226.61,494.26 L226.73,494.32 L226.85,494.27 L226.97,494.37 L227.08,494.53 L227.20,494.62 L227.32,494.54 L227.44,494.57 L227.56,494.56 L227.67,494.42 L227.79,494.41 L227.91,494.33 L228.03,494.37 L228.14,494.23 L228.26,494.30 L228.38,494.32 L228.50,494.43 L228.61,494.38 L228.73,494.49 L228.85,494.48 L228.97,494.43 L229.08,494.29 L229.20,494.31 L229.32,494.23 L229.44,494.20 L229.56,494.17 L229.67,494.25 L229.79,494.17 L229.91,494.17 L230.03,494.21 L230.14,494.32 L230.26,494.42 L230.38,494.62 L230.50,494.56 L230.61,494.45 L230.73,494.49 L230.85,494.31 L230.97,494.22 L231.09,494.36 L231.20,494.39 L231.32,494.32 L231.44,494.48 L231.56,494.63 L231.67,494.57 L231.79,494.57 L231.91,494.74 L232.03,494.65 L232.14,494.49 L232.26,494.52 L232.38,494.53 L232.50,494.39 L232.62,494.48 L232.73,494.54 L232.85,494.43 L232.97,494.53 L233.09,494.49 L233.20,494.43 L233.32,494.45 L233.44,494.57 L233.56,494.57 L233.67,494.64 L233.79,494.65 L233.91,494.59 L234.03,494.62 L234.14,494.33 L234.26,494.31 L234.38,494.30 L234.50,494.34 L234.62,494.31 L234.73,494.42 L234.85,494.42 L234.97,494.34 L235.09,494.25 L235.20,494.29 L235.32,494.31 L235.44,494.32 L235.56,494.23 L235.67,494.33 L235.79,494.33 L235.91,494.52 L236.03,494.56 L236.15,494.78 L236.26,494.82 L236.38,494.84 L236.50,494.76 L236.62,494.69 L236.73,494.56 L236.85,494.60 L236.97,494.56 L237.09,494.58 L237.20,494.66 L237.32,494.84 L237.44,494.79 L237.56,494.71 L237.67,494.66 L237.79,494.59 L237.91,494.47 L238.03,494.40 L238.15,494.46 L238.26,494.42 L238.38,494.44 L238.50,494.44 L238.62,494.43 L238.73,494.44 L238.85,494.54 L238.97,494.39 L239.09,494.43 L239.20,494.26 L239.32,494.27 L239.44,494.14 L239.56,494.27 L239.68,494.26 L239.79,494.40 L239.91,494.41 L240.03,494.47 L240.15,494.43 L240.26,494.44 L240.38,494.46 L240.50,494.34 L240.62,494.28 L240.73,494.27 L240.85,494.30 L240.97,494.42 L241.09,494.53 L241.20,494.62 L241.32,494.59 L241.44,494.59 L241.56,494.60 L241.68,494.51 L241.79,494.53 L241.91,494.62 L242.03,494.61 L242.15,494.50 L242.26,494.70 L242.38,494.72 L242.50,494.66 L242.62,494.67 L242.73,494.75 L242.85,494.63 L242.97,494.47 L243.09,494.51 L243.21,494.44 L243.32,494.33 L243.44,494.33 L243.56,494.39 L243.68,494.39 L243.79,494.47 L243.91,494.60 L244.03,494.51 L244.15,494.56 L244.26,494.57 L244.38,494.60 L244.50,494.41 L244.62,494.42 L244.73,494.40 L244.85,494.41 L244.97,494.44 L245.09,494.53 L245.21,494.56 L245.32,494.64 L245.44,494.52 L245.56,494.37 L245.68,494.45 L245.79,494.51 L245.91,494.44 L246.03,494.50 L246.15,494.56 L246.26,494.60 L246.38,494.47 L246.50,494.42 L246.62,494.35 L246.74,494.26 L246.85,494.16 L246.97,494.23 L247.09,494.20 L247.21,494.23 L247.32,494.32 L247.44,494.35 L247.56,494.36 L247.68,494.46 L247.79,494.54 L247.91,494.66 L248.03,494.61 L248.15,494.67 L248.27,494.65 L248.38,494.61 L248.50,494.45 L248.62,494.33 L248.74,494.24 L248.85,494.28 L248.97,494.25 L249.09,494.30 L249.21,494.37 L249.32,494.41 L249.44,494.33 L249.56,494.34 L249.68,494.30 L249.79,494.39 L249.91,494.33 L250.03,494.22 L250.15,494.03 L250.27,493.92 L250.38,493.72 L250.50,493.52 L250.62,493.36 L250.74,493.19 L250.85,492.99 L250.97,492.80 L251.09,492.59 L251.21,492.35 L251.32,492.31 L251.44,492.17 L251.56,492.12 L251.68,492.09 L251.80,492.13 L251.91,492.03 L252.03,492.02 L252.15,491.92 L252.27,491.94 L252.38,491.92 L252.50,492.00 L252.62,492.14 L252.74,492.36 L252.85,492.44 L252.97,492.55 L253.09,492.77 L253.21,492.87 L253.32,493.04 L253.44,493.38 L253.56,493.63 L253.68,493.64 L253.80,493.86 L253.91,493.93 L254.03,493.82 L254.15,494.00 L254.27,494.13 L254.38,494.09 L254.50,494.10 L254.62,494.24 L254.74,493.98 L254.85,494.13 L254.97,494.21 L255.09,494.23 L255.21,494.30 L255.33,494.57 L255.44,494.41 L255.56,494.39 L255.68,494.49 L255.80,494.50 L255.91,494.39 L256.03,494.48 L256.15,494.59 L256.27,494.49 L256.38,494.43 L256.50,494.43 L256.62,494.44 L256.74,494.46 L256.85,494.34 L256.97,494.35 L257.09,494.26 L257.21,494.10 L257.33,493.99 L257.44,494.20 L257.56,494.15 L257.68,494.28 L257.80,494.50 L257.91,494.56 L258.03,494.37 L258.15,494.46 L258.27,494.54 L258.38,494.54 L258.50,494.55 L258.62,494.65 L258.74,494.64 L258.86,494.62 L258.97,494.56 L259.09,494.52 L259.21,494.49 L259.33,494.38 L259.44,494.33 L259.56,494.41 L259.68,494.36 L259.80,494.35 L259.91,494.43 L260.03,494.40 L260.15,494.36 L260.27,494.35 L260.38,494.37 L260.50,494.41 L260.62,494.45 L260.74,494.45 L260.86,494.51 L260.97,494.54 L261.09,494.46 L261.21,494.43 L261.33,494.47 L261.44,494.47 L261.56,494.37 L261.68,494.35 L261.80,494.41 L261.91,494.43 L262.03,494.26 L262.15,494.27 L262.27,494.32 L262.39,494.17 L262.50,494.21 L262.62,494.33 L262.74,494.37 L262.86,494.50 L262.97,494.62 L263.09,494.47 L263.21,494.40 L263.33,494.48 L263.44,494.34 L263.56,494.18 L263.68,494.25 L263.80,494.40 L263.92,494.36 L264.03,494.40 L264.15,494.42 L264.27,494.37 L264.39,494.33 L264.50,494.16 L264.62,494.16 L264.74,494.20 L264.86,494.16 L264.97,494.04 L265.09,494.17 L265.21,494.08 L265.33,494.09 L265.44,494.19 L265.56,494.22 L265.68,494.20 L265.80,494.19 L265.92,494.10 L266.03,493.96 L266.15,493.75 L266.27,493.50 L266.39,493.47 L266.50,493.29 L266.62,493.08 L266.74,493.09 L266.86,492.90 L266.97,492.50 L267.09,492.20 L267.21,491.87 L267.33,491.30 L267.45,490.92 L267.56,490.57 L267.68,490.24 L267.80,490.02 L267.92,489.98 L268.03,490.09 L268.15,490.19 L268.27,490.45 L268.39,490.66 L268.50,490.89 L268.62,491.14 L268.74,491.38 L268.86,491.48 L268.97,491.95 L269.09,492.28 L269.21,492.60 L269.33,492.93 L269.45,493.39 L269.56,493.41 L269.68,493.56 L269.80,493.66 L269.92,493.72 L270.03,493.71 L270.15,493.89 L270.27,493.80 L270.39,493.76 L270.50,493.78 L270.62,493.67 L270.74,493.50 L270.86,493.65 L270.98,493.50 L271.09,493.46 L271.21,493.42 L271.33,493.29 L271.45,492.98 L271.56,492.89 L271.68,492.71 L271.80,492.69 L271.92,492.69 L272.03,492.69 L272.15,492.66 L272.27,492.66 L272.39,492.69 L272.50,492.66 L272.62,492.82 L272.74,493.05 L272.86,493.19 L272.98,493.20 L273.09,493.35 L273.21,493.36 L273.33,493.34 L273.45,493.38 L273.56,493.65 L273.68,493.86 L273.80,493.99 L273.92,494.15 L274.03,494.10 L274.15,494.01 L274.27,493.96 L274.39,493.96 L274.51,493.92 L274.62,494.11 L274.74,494.11 L274.86,494.20 L274.98,494.34 L275.09,494.35 L275.21,494.44 L275.33,494.43 L275.45,494.32 L275.56,494.22 L275.68,494.25 L275.80,494.13 L275.92,494.34 L276.03,494.45 L276.15,494.54 L276.27,494.55 L276.39,494.66 L276.51,494.57 L276.62,494.53 L276.74,494.41 L276.86,494.57 L276.98,494.59 L277.09,494.50 L277.21,494.62 L277.33,494.68 L277.45,494.62 L277.56,494.64 L277.68,494.71 L277.80,494.64 L277.92,494.65 L278.04,494.60 L278.15,494.40 L278.27,494.38 L278.39,494.31 L278.51,494.35 L278.62,494.38 L278.74,494.41 L278.86,494.54 L278.98,494.50 L279.09,494.50 L279.21,494.49 L279.33,494.54 L279.45,494.36 L279.57,494.39 L279.68,494.38 L279.80,494.37 L279.92,494.39 L280.04,494.46 L280.15,494.46 L280.27,494.38 L280.39,494.39 L280.51,494.38 L280.62,494.45 L280.74,494.47 L280.86,494.65 L280.98,494.61 L281.09,494.69 L281.21,494.52 L281.33,494.32 L281.45,494.22 L281.57,494.18 L281.68,494.10 L281.80,494.22 L281.92,494.47 L282.04,494.40 L282.15,494.40 L282.27,494.40 L282.39,494.47 L282.51,494.48 L282.62,494.53 L282.74,494.53 L282.86,494.54 L282.98,494.42 L283.10,494.27 L283.21,494.27 L283.33,494.37 L283.45,494.40 L283.57,494.53 L283.68,494.58 L283.80,494.54 L283.92,494.47 L284.04,494.54 L284.15,494.48 L284.27,494.45 L284.39,494.45 L284.51,494.43 L284.62,494.40 L284.74,494.34 L284.86,494.44 L284.98,494.44 L285.10,494.56 L285.21,494.47 L285.33,494.42 L285.45,494.33 L285.57,494.47 L285.68,494.37 L285.80,494.38 L285.92,494.52 L286.04,494.62 L286.15,494.50 L286.27,494.53 L286.39,494.58 L286.51,494.62 L286.63,494.55 L286.74,494.54 L286.86,494.41 L286.98,494.47 L287.10,494.20 L287.21,494.10 L287.33,494.10 L287.45,494.15 L287.57,494.06 L287.68,494.16 L287.80,494.32 L287.92,494.33 L288.04,494.51 L288.15,494.61 L288.27,494.69 L288.39,494.69 L288.51,494.66 L288.63,494.51 L288.74,494.42 L288.86,494.40 L288.98,494.34 L289.10,494.49 L289.21,494.55 L289.33,494.54 L289.45,494.55 L289.57,494.63 L289.68,494.65 L289.80,494.68 L289.92,494.66 L290.04,494.57 L290.16,494.43 L290.27,494.21 L290.39,494.17 L290.51,494.11 L290.63,494.21 L290.74,494.25 L290.86,494.28 L290.98,494.13 L291.10,494.19 L291.21,494.26 L291.33,494.21 L291.45,494.32 L291.57,494.50 L291.69,494.53 L291.80,494.51 L291.92,494.51 L292.04,494.42 L292.16,494.46 L292.27,494.43 L292.39,494.40 L292.51,494.45 L292.63,494.51 L292.74,494.52 L292.86,494.57 L292.98,494.57 L293.10,494.59 L293.21,494.62 L293.33,494.58 L293.45,494.51 L293.57,494.33 L293.69,494.29 L293.80,494.43 L293.92,494.45 L294.04,494.51 L294.16,494.64 L294.27,494.59 L294.39,494.35 L294.51,494.47 L294.63,494.42 L294.74,494.43 L294.86,494.51 L294.98,494.47 L295.10,494.39 L295.22,494.34 L295.33,494.45 L295.45,494.48 L295.57,494.54 L295.69,494.32 L295.80,494.44 L295.92,494.44 L296.04,494.40 L296.16,494.46 L296.27,494.51 L296.39,494.51 L296.51,494.46 L296.63,494.42 L296.74,494.37 L296.86,494.41 L296.98,494.46 L297.10,494.29 L297.22,494.41 L297.33,494.36 L297.45,494.49 L297.57,494.50 L297.69,494.62 L297.80,494.57 L297.92,494.53 L298.04,494.44 L298.16,494.29 L298.27,494.23 L298.39,494.04 L298.51,494.19 L298.63,494.14 L298.75,494.19 L298.86,494.22 L298.98,494.45 L299.10,494.33 L299.22,494.49 L299.33,494.56 L299.45,494.59 L299.57,494.63 L299.69,494.66 L299.80,494.52 L299.92,494.48 L300.04,494.42 L300.16,494.39 L300.27,494.44 L300.39,494.49 L300.51,494.32 L300.63,494.37 L300.75,494.39 L300.86,494.45 L300.98,494.37 L301.10,494.60 L301.22,494.63 L301.33,494.59 L301.45,494.69 L301.57,494.80 L301.69,494.63 L301.80,494.58 L301.92,494.61 L302.04,494.41 L302.16,494.35 L302.28,494.28 L302.39,494.34 L302.51,494.31 L302.63,494.35 L302.75,494.39 L302.86,494.52 L302.98,494.48 L303.10,494.50 L303.22,494.60 L303.33,494.63 L303.45,494.73 L303.57,494.79 L303.69,494.78 L303.80,494.64 L303.92,494.55 L304.04,494.52 L304.16,494.44 L304.28,494.35 L304.39,494.39 L304.51,494.55 L304.63,494.62 L304.75,494.59 L304.86,494.58 L304.98,494.56 L305.10,494.52 L305.22,494.29 L305.33,494.26 L305.45,494.32 L305.57,494.36 L305.69,494.41 L305.81,494.46 L305.92,494.64 L306.04,494.59 L306.16,494.53 L306.28,494.40 L306.39,494.35 L306.51,494.26 L306.63,494.27 L306.75,494.26 L306.86,494.25 L306.98,494.38 L307.10,494.28 L307.22,494.29 L307.34,494.35 L307.45,494.38 L307.57,494.34 L307.69,494.27 L307.81,494.29 L307.92,494.30 L308.04,494.35 L308.16,494.44 L308.28,494.71 L308.39,494.70 L308.51,494.68 L308.63,494.68 L308.75,494.70 L308.86,494.60 L308.98,494.64 L309.10,494.73 L309.22,494.65 L309.34,494.54 L309.45,494.52 L309.57,494.44 L309.69,494.39 L309.81,494.32 L309.92,494.40 L310.04,494.36 L310.16,494.37 L310.28,494.34 L310.39,494.41 L310.51,494.42 L310.63,494.55 L310.75,494.61 L310.87,494.64 L310.98,494.62 L311.10,494.54 L311.22,494.40 L311.34,494.36 L311.45,494.30 L311.57,494.33 L311.69,494.36 L311.81,494.43 L311.92,494.32 L312.04,494.44 L312.16,494.46 L312.28,494.37 L312.39,494.31 L312.51,494.35 L312.63,494.20 L312.75,494.27 L312.87,494.36 L312.98,494.47 L313.10,494.50 L313.22,494.44 L313.34,494.39 L313.45,494.33 L313.57,494.26 L313.69,494.42 L313.81,494.54 L313.92,494.61 L314.04,494.69 L314.16,494.65 L314.28,494.50 L314.40,494.39 L314.51,494.31 L314.63,494.26 L314.75,494.24 L314.87,494.25 L314.98,494.52 L315.10,494.55 L315.22,494.51 L315.34,494.61 L315.45,494.63 L315.57,494.39 L315.69,494.46 L315.81,494.52 L315.92,494.43 L316.04,494.45 L316.16,494.60 L316.28,494.45 L316.40,494.47 L316.51,494.44 L316.63,494.41 L316.75,494.34 L316.87,494.35 L316.98,494.36 L317.10,494.46 L317.22,494.59 L317.34,494.56 L317.45,494.52 L317.57,494.47 L317.69,494.42 L317.81,494.36 L317.93,494.38 L318.04,494.38 L318.16,494.49 L318.28,494.35 L318.40,494.31 L318.51,494.14 L318.63,494.11 L318.75,494.03 L318.87,494.12 L318.98,494.10 L319.10,494.21 L319.22,494.23 L319.34,494.24 L319.45,494.32 L319.57,494.36 L319.69,494.48 L319.81,494.55 L319.93,494.49 L320.04,494.44 L320.16,494.39 L320.28,494.33 L320.40,494.26 L320.51,494.40 L320.63,494.44 L320.75,494.48 L320.87,494.39 L320.98,494.39 L321.10,494.21 L321.22,494.18 L321.34,494.09 L321.46,494.21 L321.57,494.25 L321.69,494.43 L321.81,494.32 L321.93,494.28 L322.04,494.25 L322.16,494.30 L322.28,494.30 L322.40,494.50 L322.51,494.59 L322.63,494.56 L322.75,494.60 L322.87,494.49 L322.99,494.43 L323.10,494.40 L323.22,494.34 L323.34,494.25 L323.46,494.20 L323.57,494.15 L323.69,494.31 L323.81,494.34 L323.93,494.32 L324.04,494.27 L324.16,494.38 L324.28,494.18 L324.40,494.22 L324.51,494.19 L324.63,494.15 L324.75,494.11 L324.87,494.23 L324.99,494.11 L325.10,494.18 L325.22,494.30 L325.34,494.14 L325.46,494.04 L325.57,494.02 L325.69,493.89 L325.81,493.80 L325.93,493.73 L326.04,493.53 L326.16,493.53 L326.28,493.40 L326.40,493.26 L326.52,493.24 L326.63,493.28 L326.75,493.25 L326.87,493.30 L326.99,493.25 L327.10,493.16 L327.22,493.00 L327.34,492.90 L327.46,492.76 L327.57,492.69 L327.69,492.57 L327.81,492.44 L327.93,492.30 L328.04,492.09 L328.16,491.95 L328.28,491.83 L328.40,491.71 L328.52,491.53 L328.63,491.44 L328.75,491.29 L328.87,491.21 L328.99,491.23 L329.10,491.28 L329.22,491.35 L329.34,491.35 L329.46,491.34 L329.57,491.44 L329.69,491.31 L329.81,491.27 L329.93,491.43 L330.05,491.58 L330.16,491.51 L330.28,491.76 L330.40,491.91 L330.52,491.89 L330.63,491.88 L330.75,491.96 L330.87,491.86 L330.99,491.89 L331.10,491.94 L331.22,491.80 L331.34,491.88 L331.46,491.92 L331.57,491.83 L331.69,491.80 L331.81,491.80 L331.93,491.65 L332.05,491.49 L332.16,491.59 L332.28,491.38 L332.40,491.29 L332.52,491.23 L332.63,491.09 L332.75,490.78 L332.87,490.68 L332.99,490.51 L333.10,490.33 L333.22,490.36 L333.34,490.25 L333.46,490.27 L333.58,490.32 L333.69,490.27 L333.81,490.14 L333.93,489.97 L334.05,489.75 L334.16,489.68 L334.28,489.49 L334.40,489.49 L334.52,489.56 L334.63,489.59 L334.75,489.42 L334.87,489.42 L334.99,489.26 L335.10,489.10 L335.22,489.01 L335.34,488.95 L335.46,488.98 L335.58,489.03 L335.69,489.01 L335.81,488.84 L335.93,488.69 L336.05,488.31 L336.16,487.81 L336.28,487.33 L336.40,486.83 L336.52,486.29 L336.63,485.59 L336.75,484.90 L336.87,484.04 L336.99,483.17 L337.11,481.99 L337.22,480.96 L337.34,479.52 L337.46,478.26 L337.58,476.77 L337.69,475.41 L337.81,473.99 L337.93,472.69 L338.05,471.44 L338.16,470.33 L338.28,469.59 L338.40,469.06 L338.52,469.06 L338.64,469.12 L338.75,469.60 L338.87,470.27 L338.99,471.22 L339.11,472.34 L339.22,473.55 L339.34,474.97 L339.46,476.56 L339.58,478.03 L339.69,479.56 L339.81,480.98 L339.93,482.20 L340.05,483.19 L340.16,484.28 L340.28,485.15 L340.40,486.24 L340.52,487.12 L340.64,487.94 L340.75,488.54 L340.87,489.03 L340.99,489.36 L341.11,489.65 L341.22,489.74 L341.34,489.89 L341.46,489.97 L341.58,490.10 L341.69,490.27 L341.81,490.45 L341.93,490.38 L342.05,490.31 L342.17,490.09 L342.28,489.89 L342.40,489.74 L342.52,489.76 L342.64,489.67 L342.75,489.69 L342.87,489.45 L342.99,489.27 L343.11,489.08 L343.22,488.79 L343.34,488.60 L343.46,488.57 L343.58,488.49 L343.69,488.34 L343.81,488.41 L343.93,488.27 L344.05,488.15 L344.17,488.16 L344.28,488.28 L344.40,488.13 L344.52,488.11 L344.64,488.11 L344.75,488.01 L344.87,487.73 L344.99,487.65 L345.11,487.69 L345.22,487.65 L345.34,487.60 L345.46,487.73 L345.58,487.78 L345.70,487.57 L345.81,487.60 L345.93,487.53 L346.05,487.21 L346.17,487.06 L346.28,486.93 L346.40,486.77 L346.52,486.57 L346.64,486.50 L346.75,486.33 L346.87,486.20 L346.99,485.88 L347.11,485.68 L347.22,485.66 L347.34,485.61 L347.46,485.50 L347.58,485.41 L347.70,485.36 L347.81,485.19 L347.93,485.02 L348.05,484.96 L348.17,484.98 L348.28,484.82 L348.40,484.59 L348.52,484.40 L348.64,484.20 L348.75,483.93 L348.87,483.79 L348.99,483.56 L349.11,483.30 L349.23,483.00 L349.34,482.85 L349.46,482.35 L349.58,482.30 L349.70,482.12 L349.81,481.89 L349.93,481.44 L350.05,481.38 L350.17,480.89 L350.28,480.57 L350.40,480.26 L350.52,479.99 L350.64,479.54 L350.75,479.26 L350.87,478.97 L350.99,478.77 L351.11,478.35 L351.23,478.02 L351.34,477.65 L351.46,477.03 L351.58,476.09 L351.70,475.39 L351.81,474.52 L351.93,473.20 L352.05,471.97 L352.17,470.69 L352.28,469.10 L352.40,467.46 L352.52,465.70 L352.64,463.60 L352.76,461.07 L352.87,458.50 L352.99,455.42 L353.11,452.22 L353.23,448.69 L353.34,444.99 L353.46,440.83 L353.58,436.49 L353.70,431.82 L353.81,427.22 L353.93,422.70 L354.05,418.34 L354.17,414.33 L354.29,411.02 L354.40,408.34 L354.52,406.38 L354.64,405.50 L354.76,405.47 L354.87,406.55 L354.99,408.66 L355.11,411.62 L355.23,415.17 L355.34,419.49 L355.46,424.05 L355.58,428.75 L355.70,433.61 L355.81,438.62 L355.93,443.47 L356.05,448.21 L356.17,452.79 L356.29,457.00 L356.40,460.83 L356.52,464.46 L356.64,467.62 L356.76,470.40 L356.87,473.10 L356.99,475.48 L357.11,477.36 L357.23,479.20 L357.34,480.73 L357.46,481.96 L357.58,483.00 L357.70,483.95 L357.82,484.59 L357.93,485.13 L358.05,485.69 L358.17,486.10 L358.29,486.46 L358.40,486.65 L358.52,487.00 L358.64,487.14 L358.76,487.25 L358.87,487.36 L358.99,487.59 L359.11,487.62 L359.23,487.66 L359.34,487.85 L359.46,487.89 L359.58,487.93 L359.70,488.04 L359.82,488.10 L359.93,488.10 L360.05,488.12 L360.17,488.11 L360.29,488.04 L360.40,488.19 L360.52,488.20 L360.64,488.38 L360.76,488.55 L360.87,488.53 L360.99,488.52 L361.11,488.51 L361.23,488.49 L361.35,488.52 L361.46,488.78 L361.58,488.80 L361.70,488.99 L361.82,489.02 L361.93,489.08 L362.05,489.05 L362.17,489.17 L362.29,489.24 L362.40,489.36 L362.52,489.52 L362.64,489.77 L362.76,489.83 L362.87,489.77 L362.99,489.77 L363.11,489.64 L363.23,489.54 L363.35,489.70 L363.46,489.96 L363.58,490.04 L363.70,490.23 L363.82,490.32 L363.93,490.26 L364.05,490.31 L364.17,490.37 L364.29,490.45 L364.40,490.47 L364.52,490.48 L364.64,490.46 L364.76,490.44 L364.88,490.36 L364.99,490.45 L365.11,490.40 L365.23,490.49 L365.35,490.61 L365.46,490.66 L365.58,490.78 L365.70,490.88 L365.82,490.74 L365.93,490.75 L366.05,490.79 L366.17,490.63 L366.29,490.72 L366.40,490.73 L366.52,490.76 L366.64,490.78 L366.76,490.78 L366.88,490.72 L366.99,490.72 L367.11,490.80 L367.23,490.94 L367.35,490.98 L367.46,491.05 L367.58,491.21 L367.70,491.10 L367.82,490.94 L367.93,490.92 L368.05,490.82 L368.17,490.84 L368.29,490.87 L368.41,490.81 L368.52,490.81 L368.64,491.02 L368.76,490.96 L368.88,490.91 L368.99,490.92 L369.11,490.95 L369.23,490.83 L369.35,490.95 L369.46,491.07 L369.58,491.16 L369.70,491.30 L369.82,491.41 L369.94,491.50 L370.05,491.42 L370.17,491.54 L370.29,491.47 L370.41,491.60 L370.52,491.59 L370.64,491.61 L370.76,491.65 L370.88,491.76 L370.99,491.66 L371.11,491.56 L371.23,491.84 L371.35,491.91 L371.46,491.90 L371.58,491.96 L371.70,492.01 L371.82,491.93 L371.94,491.91 L372.05,491.92 L372.17,491.99 L372.29,492.09 L372.41,492.12 L372.52,492.12 L372.64,492.16 L372.76,492.16 L372.88,492.14 L372.99,492.12 L373.11,492.12 L373.23,492.09 L373.35,492.16 L373.47,492.09 L373.58,492.20 L373.70,492.19 L373.82,492.27 L373.94,492.15 L374.05,492.15 L374.17,492.18 L374.29,492.18 L374.41,492.12 L374.52,492.19 L374.64,492.24 L374.76,492.15 L374.88,492.18 L374.99,492.27 L375.11,492.19 L375.23,492.18 L375.35,492.10 L375.47,492.16 L375.58,491.97 L375.70,491.90 L375.82,491.95 L375.94,492.03 L376.05,492.02 L376.17,492.11 L376.29,492.18 L376.41,492.24 L376.52,492.35 L376.64,492.31 L376.76,492.38 L376.88,492.45 L377.00,492.39 L377.11,492.35 L377.23,492.40 L377.35,492.44 L377.47,492.45 L377.58,492.43 L377.70,492.39 L377.82,492.48 L377.94,492.41 L378.05,492.42 L378.17,492.55 L378.29,492.70 L378.41,492.74 L378.52,492.85 L378.64,492.89 L378.76,492.95 L378.88,492.84 L379.00,492.87 L379.11,492.94 L379.23,492.98 L379.35,493.00 L379.47,493.06 L379.58,493.00 L379.70,492.93 L379.82,493.05 L379.94,493.08 L380.05,493.21 L380.17,493.39 L380.29,493.48 L380.41,493.51 L380.53,493.65 L380.64,493.57 L380.76,493.57 L380.88,493.64 L381.00,493.62 L381.11,493.50 L381.23,493.57 L381.35,493.68 L381.47,493.65 L381.58,493.74 L381.70,493.89 L381.82,494.06 L381.94,493.87 L382.05,493.92 L382.17,493.90 L382.29,493.79 L382.41,493.68 L382.53,493.88 L382.64,493.87 L382.76,493.83 L382.88,493.86 L383.00,493.78 L383.11,493.57 L383.23,493.69 L383.35,493.80 L383.47,493.79 L383.58,493.90 L383.70,494.03 L383.82,493.99" fill="none" stroke="#646464" stroke-width="0.6"/>
<path d="M183.90,491.41 L184.02,491.38 L184.14,491.34 L184.25,491.42 L184.37,491.32 L184.49,491.30 L184.61,491.26 L184.72,490.96 L184.84,490.88 L184.96,490.72 L185.08,490.67 L185.19,490.61 L185.31,490.85 L185.43,490.85 L185.55,490.76 L185.67,490.72 L185.78,490.58 L185.90,490.49 L186.02,490.44 L186.14,490.35 L186.25,490.28 L186.37,490.36 L186.49,490.34 L186.61,490.30 L186.72,490.27 L186.84,490.32 L186.96,490.30 L187.08,490.23 L187.19,490.33 L187.31,490.49 L187.43,490.43 L187.55,490.39 L187.67,490.47 L187.78,490.40 L187.90,490.59 L188.02,490.61 L188.14,490.75 L188.25,490.90 L188.37,490.97 L188.49,490.78 L188.61,490.92 L188.72,490.98 L188.84,490.92 L188.96,490.99 L189.08,491.00 L189.20,490.98 L189.31,490.96 L189.43,490.95 L189.55,491.03 L189.67,491.24 L189.78,491.32 L189.90,491.36 L190.02,491.52 L190.14,491.62 L190.25,491.62 L190.37,491.89 L190.49,491.96 L190.61,491.98 L190.72,492.11 L190.84,492.20 L190.96,492.17 L191.08,492.24 L191.20,492.48 L191.31,492.50 L191.43,492.53 L191.55,492.47 L191.67,492.73 L191.78,492.70 L191.90,492.69 L192.02,492.84 L192.14,492.88 L192.25,492.88 L192.37,492.89 L192.49,493.05 L192.61,492.98 L192.73,493.14 L192.84,493.15 L192.96,493.34 L193.08,493.22 L193.20,493.32 L193.31,493.32 L193.43,493.28 L193.55,493.19 L193.67,493.39 L193.78,493.54 L193.90,493.68 L194.02,493.71 L194.14,493.87 L194.25,493.91 L194.37,493.91 L194.49,493.88 L194.61,493.97 L194.73,493.99 L194.84,494.09 L194.96,494.10 L195.08,494.06 L195.20,494.07 L195.31,494.00 L195.43,493.93 L195.55,493.92 L195.67,494.03 L195.78,494.04 L195.90,494.12 L196.02,494.10 L196.14,494.13 L196.26,494.09 L196.37,494.12 L196.49,493.90 L196.61,493.81 L196.73,493.69 L196.84,493.84 L196.96,493.85 L197.08,494.02 L197.20,494.04 L197.31,494.23 L197.43,493.96 L197.55,493.78 L197.67,493.72 L197.78,493.70 L197.90,493.46 L198.02,493.35 L198.14,493.18 L198.26,492.72 L198.37,492.39 L198.49,491.98 L198.61,491.62 L198.73,491.16 L198.84,490.82 L198.96,490.26 L199.08,489.88 L199.20,489.38 L199.31,489.00 L199.43,488.40 L199.55,487.89 L199.67,487.30 L199.79,486.81 L199.90,486.27 L200.02,486.03 L200.14,485.84 L200.26,485.61 L200.37,485.36 L200.49,485.48 L200.61,485.67 L200.73,485.98 L200.84,486.49 L200.96,487.07 L201.08,487.51 L201.20,488.01 L201.32,488.46 L201.43,488.91 L201.55,489.47 L201.67,490.13 L201.79,490.64 L201.90,491.10 L202.02,491.57 L202.14,491.99 L202.26,492.27 L202.37,492.56 L202.49,492.77 L202.61,492.97 L202.73,493.13 L202.84,493.19 L202.96,493.25 L203.08,493.31 L203.20,493.50 L203.32,493.50 L203.43,493.63 L203.55,493.70 L203.67,493.78 L203.79,493.59 L203.90,493.59 L204.02,493.55 L204.14,493.45 L204.26,493.51 L204.37,493.57 L204.49,493.57 L204.61,493.59 L204.73,493.53 L204.85,493.42 L204.96,493.24 L205.08,493.26 L205.20,493.21 L205.32,493.30 L205.43,493.28 L205.55,493.42 L205.67,493.35 L205.79,493.28 L205.90,493.14 L206.02,493.18 L206.14,493.03 L206.26,493.05 L206.37,493.06 L206.49,493.16 L206.61,493.14 L206.73,493.14 L206.85,492.98 L206.96,492.86 L207.08,492.72 L207.20,492.48 L207.32,492.42 L207.43,492.42 L207.55,492.39 L207.67,492.49 L207.79,492.49 L207.90,492.57 L208.02,492.49 L208.14,492.43 L208.26,492.20 L208.38,492.21 L208.49,492.10 L208.61,492.08 L208.73,492.07 L208.85,492.12 L208.96,492.07 L209.08,491.99 L209.20,491.99 L209.32,491.98 L209.43,491.95 L209.55,492.07 L209.67,492.04 L209.79,492.09 L209.90,491.94 L210.02,491.83 L210.14,491.80 L210.26,491.77 L210.38,491.69 L210.49,491.83 L210.61,491.87 L210.73,491.77 L210.85,491.89 L210.96,491.91 L211.08,491.85 L211.20,491.89 L211.32,491.95 L211.43,491.80 L211.55,491.75 L211.67,491.83 L211.79,491.89 L211.91,491.83 L212.02,491.93 L212.14,491.88 L212.26,491.81 L212.38,491.85 L212.49,491.91 L212.61,491.90 L212.73,491.88 L212.85,491.91 L212.96,491.85 L213.08,491.77 L213.20,491.77 L213.32,491.76 L213.43,491.77 L213.55,491.70 L213.67,491.69 L213.79,491.59 L213.91,491.74 L214.02,491.50 L214.14,491.44 L214.26,491.31 L214.38,491.23 L214.49,490.99 L214.61,490.82 L214.73,490.45 L214.85,490.06 L214.96,489.53 L215.08,488.98 L215.20,488.50 L215.32,487.94 L215.44,487.32 L215.55,486.71 L215.67,485.95 L215.79,485.06 L215.91,484.24 L216.02,483.39 L216.14,482.39 L216.26,481.35 L216.38,480.46 L216.49,479.51 L216.61,478.55 L216.73,477.62 L216.85,477.04 L216.97,476.28 L217.08,475.61 L217.20,475.24 L217.32,474.98 L217.44,474.78 L217.55,475.00 L217.67,475.42 L217.79,475.99 L217.91,476.81 L218.02,477.53 L218.14,478.45 L218.26,479.31 L218.38,480.23 L218.49,481.16 L218.61,482.30 L218.73,483.41 L218.85,484.55 L218.97,485.48 L219.08,486.52 L219.20,487.45 L219.32,488.08 L219.44,488.81 L219.55,489.60 L219.67,490.18 L219.79,490.58 L219.91,491.13 L220.02,491.46 L220.14,491.64 L220.26,491.93 L220.38,492.35 L220.50,492.66 L220.61,492.95 L220.73,493.18 L220.85,493.33 L220.97,493.37 L221.08,493.43 L221.20,493.52 L221.32,493.70 L221.44,493.81 L221.55,494.00 L221.67,494.14 L221.79,494.24 L221.91,494.33 L222.02,494.41 L222.14,494.32 L222.26,494.26 L222.38,494.07 L222.50,493.97 L222.61,493.97 L222.73,493.99 L222.85,493.98 L222.97,494.23 L223.08,494.24 L223.20,494.27 L223.32,494.54 L223.44,494.52 L223.55,494.54 L223.67,494.52 L223.79,494.53 L223.91,494.42 L224.03,494.38 L224.14,494.43 L224.26,494.52 L224.38,494.40 L224.50,494.32 L224.61,494.44 L224.73,494.37 L224.85,494.34 L224.97,494.49 L225.08,494.47 L225.20,494.43 L225.32,494.29 L225.44,494.38 L225.55,494.39 L225.67,494.39 L225.79,494.46 L225.91,494.60 L226.03,494.57 L226.14,494.44 L226.26,494.54 L226.38,494.52 L226.50,494.71 L226.61,494.78 L226.73,494.76 L226.85,494.77 L226.97,494.81 L227.08,494.73 L227.20,494.64 L227.32,494.73 L227.44,494.77 L227.56,494.68 L227.67,494.59 L227.79,494.58 L227.91,494.64 L228.03,494.45 L228.14,494.47 L228.26,494.50 L228.38,494.59 L228.50,494.56 L228.61,494.62 L228.73,494.67 L228.85,494.59 L228.97,494.52 L229.08,494.42 L229.20,494.43 L229.32,494.42 L229.44,494.61 L229.56,494.63 L229.67,494.67 L229.79,494.72 L229.91,494.68 L230.03,494.59 L230.14,494.63 L230.26,494.75 L230.38,494.67 L230.50,494.70 L230.61,494.70 L230.73,494.76 L230.85,494.71 L230.97,494.71 L231.09,494.69 L231.20,494.71 L231.32,494.53 L231.44,494.43 L231.56,494.46 L231.67,494.44 L231.79,494.32 L231.91,494.38 L232.03,494.42 L232.14,494.54 L232.26,494.49 L232.38,494.55 L232.50,494.46 L232.62,494.64 L232.73,494.55 L232.85,494.58 L232.97,494.62 L233.09,494.72 L233.20,494.54 L233.32,494.55 L233.44,494.65 L233.56,494.64 L233.67,494.60 L233.79,494.57 L233.91,494.60 L234.03,494.56 L234.14,494.54 L234.26,494.54 L234.38,494.69 L234.50,494.78 L234.62,494.78 L234.73,494.87 L234.85,494.97 L234.97,494.90 L235.09,494.78 L235.20,494.86 L235.32,494.74 L235.44,494.82 L235.56,494.79 L235.67,494.92 L235.79,494.93 L235.91,494.95 L236.03,494.86 L236.15,494.94 L236.26,494.87 L236.38,494.76 L236.50,494.81 L236.62,494.78 L236.73,494.66 L236.85,494.68 L236.97,494.74 L237.09,494.77 L237.20,494.69 L237.32,494.70 L237.44,494.57 L237.56,494.54 L237.67,494.52 L237.79,494.54 L237.91,494.63 L238.03,494.66 L238.15,494.61 L238.26,494.65 L238.38,494.71 L238.50,494.69 L238.62,494.63 L238.73,494.51 L238.85,494.47 L238.97,494.47 L239.09,494.61 L239.20,494.70 L239.32,494.87 L239.44,494.94 L239.56,494.89 L239.68,494.84 L239.79,494.87 L239.91,494.86 L240.03,494.87 L240.15,494.87 L240.26,494.70 L240.38,494.77 L240.50,494.87 L240.62,494.75 L240.73,494.81 L240.85,494.96 L240.97,494.89 L241.09,494.80 L241.20,494.85 L241.32,494.79 L241.44,494.69 L241.56,494.56 L241.68,494.46 L241.79,494.41 L241.91,494.39 L242.03,494.33 L242.15,494.40 L242.26,494.57 L242.38,494.56 L242.50,494.62 L242.62,494.60 L242.73,494.64 L242.85,494.53 L242.97,494.56 L243.09,494.46 L243.21,494.55 L243.32,494.57 L243.44,494.59 L243.56,494.64 L243.68,494.74 L243.79,494.75 L243.91,494.71 L244.03,494.61 L244.15,494.60 L244.26,494.61 L244.38,494.62 L244.50,494.60 L244.62,494.80 L244.73,494.82 L244.85,494.82 L244.97,494.77 L245.09,494.82 L245.21,494.77 L245.32,494.78 L245.44,494.75 L245.56,494.69 L245.68,494.66 L245.79,494.62 L245.91,494.53 L246.03,494.62 L246.15,494.74 L246.26,494.77 L246.38,494.77 L246.50,494.80 L246.62,494.81 L246.74,494.72 L246.85,494.59 L246.97,494.62 L247.09,494.59 L247.21,494.49 L247.32,494.51 L247.44,494.72 L247.56,494.59 L247.68,494.65 L247.79,494.58 L247.91,494.62 L248.03,494.55 L248.15,494.66 L248.27,494.56 L248.38,494.70 L248.50,494.72 L248.62,494.72 L248.74,494.81 L248.85,494.78 L248.97,494.67 L249.09,494.63 L249.21,494.51 L249.32,494.44 L249.44,494.50 L249.56,494.40 L249.68,494.30 L249.79,494.48 L249.91,494.58 L250.03,494.59 L250.15,494.56 L250.27,494.58 L250.38,494.36 L250.50,494.01 L250.62,493.89 L250.74,493.82 L250.85,493.61 L250.97,493.43 L251.09,493.30 L251.21,493.14 L251.32,492.97 L251.44,492.91 L251.56,492.72 L251.68,492.46 L251.80,492.37 L251.91,492.47 L252.03,492.43 L252.15,492.49 L252.27,492.61 L252.38,492.56 L252.50,492.56 L252.62,492.70 L252.74,492.77 L252.85,493.05 L252.97,493.19 L253.09,493.30 L253.21,493.35 L253.32,493.52 L253.44,493.53 L253.56,493.67 L253.68,493.83 L253.80,493.97 L253.91,494.10 L254.03,494.21 L254.15,494.26 L254.27,494.27 L254.38,494.39 L254.50,494.48 L254.62,494.56 L254.74,494.62 L254.85,494.68 L254.97,494.58 L255.09,494.53 L255.21,494.54 L255.33,494.69 L255.44,494.63 L255.56,494.67 L255.68,494.81 L255.80,494.73 L255.91,494.54 L256.03,494.54 L256.15,494.55 L256.27,494.29 L256.38,494.29 L256.50,494.46 L256.62,494.48 L256.74,494.53 L256.85,494.69 L256.97,494.93 L257.09,494.82 L257.21,494.87 L257.33,494.85 L257.44,494.85 L257.56,494.64 L257.68,494.71 L257.80,494.72 L257.91,494.70 L258.03,494.60 L258.15,494.68 L258.27,494.57 L258.38,494.50 L258.50,494.57 L258.62,494.56 L258.74,494.60 L258.86,494.62 L258.97,494.67 L259.09,494.61 L259.21,494.79 L259.33,494.79 L259.44,494.78 L259.56,494.74 L259.68,494.77 L259.80,494.71 L259.91,494.63 L260.03,494.79 L260.15,494.88 L260.27,494.89 L260.38,494.91 L260.50,494.99 L260.62,494.90 L260.74,494.84 L260.86,494.84 L260.97,494.68 L261.09,494.57 L261.21,494.48 L261.33,494.47 L261.44,494.49 L261.56,494.69 L261.68,494.78 L261.80,494.99 L261.91,495.03 L262.03,494.94 L262.15,494.74 L262.27,494.66 L262.39,494.57 L262.50,494.50 L262.62,494.60 L262.74,494.65 L262.86,494.72 L262.97,494.61 L263.09,494.47 L263.21,494.35 L263.33,494.25 L263.44,494.23 L263.56,494.30 L263.68,494.38 L263.80,494.32 L263.92,494.51 L264.03,494.51 L264.15,494.58 L264.27,494.67 L264.39,494.72 L264.50,494.68 L264.62,494.71 L264.74,494.70 L264.86,494.65 L264.97,494.65 L265.09,494.59 L265.21,494.52 L265.33,494.49 L265.44,494.37 L265.56,494.39 L265.68,494.40 L265.80,494.31 L265.92,494.31 L266.03,494.35 L266.15,494.25 L266.27,494.10 L266.39,493.93 L266.50,493.59 L266.62,493.52 L266.74,493.32 L266.86,493.09 L266.97,492.91 L267.09,492.74 L267.21,492.44 L267.33,492.10 L267.45,491.80 L267.56,491.55 L267.68,491.36 L267.80,490.97 L267.92,491.11 L268.03,491.14 L268.15,491.08 L268.27,491.12 L268.39,491.43 L268.50,491.57 L268.62,491.73 L268.74,492.23 L268.86,492.48 L268.97,492.75 L269.09,492.99 L269.21,493.25 L269.33,493.46 L269.45,493.69 L269.56,493.84 L269.68,493.91 L269.80,494.03 L269.92,493.94 L270.03,493.96 L270.15,494.01 L270.27,494.02 L270.39,494.06 L270.50,494.04 L270.62,493.99 L270.74,493.88 L270.86,493.80 L270.98,493.77 L271.09,493.70 L271.21,493.68 L271.33,493.64 L271.45,493.47 L271.56,493.43 L271.68,493.43 L271.80,493.42 L271.92,493.43 L272.03,493.61 L272.15,493.57 L272.27,493.62 L272.39,493.54 L272.50,493.46 L272.62,493.40 L272.74,493.41 L272.86,493.45 L272.98,493.56 L273.09,493.79 L273.21,494.01 L273.33,494.13 L273.45,494.10 L273.56,494.12 L273.68,494.17 L273.80,494.01 L273.92,494.10 L274.03,494.30 L274.15,494.46 L274.27,494.53 L274.39,494.69 L274.51,494.57 L274.62,494.57 L274.74,494.58 L274.86,494.58 L274.98,494.60 L275.09,494.86 L275.21,494.85 L275.33,494.75 L275.45,494.70 L275.56,494.65 L275.68,494.63 L275.80,494.76 L275.92,494.73 L276.03,494.68 L276.15,494.82 L276.27,494.73 L276.39,494.62 L276.51,494.67 L276.62,494.73 L276.74,494.67 L276.86,494.67 L276.98,494.66 L277.09,494.71 L277.21,494.84 L277.33,495.00 L277.45,495.07 L277.56,495.19 L277.68,495.17 L277.80,495.00 L277.92,494.79 L278.04,494.77 L278.15,494.66 L278.27,494.60 L278.39,494.70 L278.51,494.65 L278.62,494.59 L278.74,494.57 L278.86,494.56 L278.98,494.56 L279.09,494.56 L279.21,494.66 L279.33,494.73 L279.45,494.89 L279.57,494.82 L279.68,494.94 L279.80,494.88 L279.92,494.90 L280.04,494.77 L280.15,494.68 L280.27,494.60 L280.39,494.50 L280.51,494.39 L280.62,494.32 L280.74,494.43 L280.86,494.55 L280.98,494.56 L281.09,494.60 L281.21,494.81 L281.33,494.86 L281.45,494.86 L281.57,494.97 L281.68,495.03 L281.80,494.87 L281.92,494.79 L282.04,494.79 L282.15,494.87 L282.27,494.84 L282.39,495.06 L282.51,495.11 L282.62,495.01 L282.74,494.96 L282.86,494.96 L282.98,494.80 L283.10,494.70 L283.21,494.61 L283.33,494.55 L283.45,494.46 L283.57,494.54 L283.68,494.61 L283.80,494.77 L283.92,494.72 L284.04,494.86 L284.15,494.87 L284.27,494.90 L284.39,494.80 L284.51,494.94 L284.62,494.90 L284.74,494.83 L284.86,494.81 L284.98,494.90 L285.10,494.80 L285.21,494.78 L285.33,494.70 L285.45,494.68 L285.57,494.71 L285.68,494.86 L285.80,494.84 L285.92,494.85 L286.04,494.88 L286.15,494.73 L286.27,494.62 L286.39,494.72 L286.51,494.75 L286.63,494.75 L286.74,494.76 L286.86,494.82 L286.98,494.72 L287.10,494.81 L287.21,494.77 L287.33,494.85 L287.45,494.80 L287.57,494.85 L287.68,494.72 L287.80,494.77 L287.92,494.79 L288.04,494.81 L288.15,494.84 L288.27,494.83 L288.39,494.95 L288.51,494.95 L288.63,494.85 L288.74,494.70 L288.86,494.81 L288.98,494.64 L289.10,494.53 L289.21,494.51 L289.33,494.59 L289.45,494.47 L289.57,494.51 L289.68,494.45 L289.80,494.59 L289.92,494.53 L290.04,494.72 L290.16,494.83 L290.27,494.89 L290.39,494.87 L290.51,494.90 L290.63,494.89 L290.74,494.69 L290.86,494.72 L290.98,494.74 L291.10,494.76 L291.21,494.63 L291.33,494.78 L291.45,494.75 L291.57,494.54 L291.69,494.50 L291.80,494.55 L291.92,494.54 L292.04,494.54 L292.16,494.77 L292.27,495.02 L292.39,495.06 L292.51,495.09 L292.63,495.02 L292.74,494.91 L292.86,494.78 L292.98,494.81 L293.10,494.71 L293.21,494.87 L293.33,494.92 L293.45,494.86 L293.57,494.78 L293.69,494.81 L293.80,494.74 L293.92,494.62 L294.04,494.50 L294.16,494.62 L294.27,494.46 L294.39,494.45 L294.51,494.46 L294.63,494.61 L294.74,494.49 L294.86,494.64 L294.98,494.64 L295.10,494.66 L295.22,494.58 L295.33,494.66 L295.45,494.68 L295.57,494.64 L295.69,494.65 L295.80,494.72 L295.92,494.67 L296.04,494.67 L296.16,494.79 L296.27,494.92 L296.39,494.79 L296.51,494.80 L296.63,494.78 L296.74,494.76 L296.86,494.59 L296.98,494.58 L297.10,494.57 L297.22,494.54 L297.33,494.54 L297.45,494.51 L297.57,494.57 L297.69,494.61 L297.80,494.56 L297.92,494.48 L298.04,494.57 L298.16,494.61 L298.27,494.60 L298.39,494.71 L298.51,494.70 L298.63,494.73 L298.75,494.81 L298.86,494.64 L298.98,494.61 L299.10,494.69 L299.22,494.73 L299.33,494.63 L299.45,494.69 L299.57,494.67 L299.69,494.57 L299.80,494.62 L299.92,494.69 L300.04,494.79 L300.16,494.80 L300.27,494.83 L300.39,494.86 L300.51,494.63 L300.63,494.66 L300.75,494.64 L300.86,494.62 L300.98,494.43 L301.10,494.62 L301.22,494.75 L301.33,494.84 L301.45,494.85 L301.57,494.96 L301.69,495.05 L301.80,495.01 L301.92,494.86 L302.04,494.88 L302.16,494.88 L302.28,494.82 L302.39,494.67 L302.51,494.82 L302.63,494.87 L302.75,494.80 L302.86,494.76 L302.98,494.67 L303.10,494.59 L303.22,494.61 L303.33,494.60 L303.45,494.67 L303.57,494.84 L303.69,494.76 L303.80,494.76 L303.92,494.78 L304.04,494.69 L304.16,494.68 L304.28,494.72 L304.39,494.66 L304.51,494.68 L304.63,494.69 L304.75,494.67 L304.86,494.85 L304.98,494.90 L305.10,494.95 L305.22,494.92 L305.33,494.86 L305.45,494.75 L305.57,494.73 L305.69,494.58 L305.81,494.56 L305.92,494.55 L306.04,494.49 L306.16,494.51 L306.28,494.61 L306.39,494.64 L306.51,494.67 L306.63,494.68 L306.75,494.74 L306.86,494.84 L306.98,494.98 L307.10,495.00 L307.22,494.94 L307.34,494.79 L307.45,494.74 L307.57,494.73 L307.69,494.65 L307.81,494.71 L307.92,494.87 L308.04,494.74 L308.16,494.63 L308.28,494.59 L308.39,494.60 L308.51,494.45 L308.63,494.50 L308.75,494.57 L308.86,494.67 L308.98,494.74 L309.10,494.74 L309.22,494.83 L309.34,494.86 L309.45,494.80 L309.57,494.69 L309.69,494.65 L309.81,494.51 L309.92,494.51 L310.04,494.60 L310.16,494.71 L310.28,494.80 L310.39,495.01 L310.51,494.91 L310.63,494.85 L310.75,494.87 L310.87,494.86 L310.98,494.65 L311.10,494.64 L311.22,494.59 L311.34,494.46 L311.45,494.44 L311.57,494.50 L311.69,494.52 L311.81,494.51 L311.92,494.60 L312.04,494.68 L312.16,494.65 L312.28,494.68 L312.39,494.73 L312.51,494.63 L312.63,494.58 L312.75,494.62 L312.87,494.51 L312.98,494.49 L313.10,494.65 L313.22,494.74 L313.34,494.66 L313.45,494.70 L313.57,494.88 L313.69,494.86 L313.81,494.78 L313.92,494.93 L314.04,494.92 L314.16,494.78 L314.28,494.66 L314.40,494.73 L314.51,494.63 L314.63,494.53 L314.75,494.59 L314.87,494.53 L314.98,494.39 L315.10,494.39 L315.22,494.52 L315.34,494.54 L315.45,494.68 L315.57,494.70 L315.69,494.67 L315.81,494.59 L315.92,494.45 L316.04,494.33 L316.16,494.41 L316.28,494.55 L316.40,494.61 L316.51,494.64 L316.63,494.69 L316.75,494.76 L316.87,494.72 L316.98,494.82 L317.10,494.85 L317.22,494.92 L317.34,494.83 L317.45,494.77 L317.57,494.67 L317.69,494.59 L317.81,494.59 L317.93,494.72 L318.04,494.68 L318.16,494.59 L318.28,494.59 L318.40,494.49 L318.51,494.32 L318.63,494.37 L318.75,494.54 L318.87,494.67 L318.98,494.65 L319.10,494.72 L319.22,494.60 L319.34,494.62 L319.45,494.61 L319.57,494.57 L319.69,494.56 L319.81,494.76 L319.93,494.75 L320.04,494.76 L320.16,494.73 L320.28,494.67 L320.40,494.56 L320.51,494.50 L320.63,494.39 L320.75,494.48 L320.87,494.57 L320.98,494.63 L321.10,494.58 L321.22,494.55 L321.34,494.56 L321.46,494.46 L321.57,494.30 L321.69,494.36 L321.81,494.52 L321.93,494.44 L322.04,494.44 L322.16,494.58 L322.28,494.51 L322.40,494.44 L322.51,494.47 L322.63,494.51 L322.75,494.45 L322.87,494.54 L322.99,494.57 L323.10,494.59 L323.22,494.59 L323.34,494.59 L323.46,494.51 L323.57,494.49 L323.69,494.48 L323.81,494.47 L323.93,494.61 L324.04,494.68 L324.16,494.69 L324.28,494.72 L324.40,494.67 L324.51,494.50 L324.63,494.38 L324.75,494.20 L324.87,494.07 L324.99,494.08 L325.10,494.01 L325.22,493.95 L325.34,494.08 L325.46,494.12 L325.57,494.01 L325.69,494.07 L325.81,494.05 L325.93,493.96 L326.04,493.89 L326.16,493.94 L326.28,493.88 L326.40,493.91 L326.52,493.84 L326.63,493.93 L326.75,493.81 L326.87,493.68 L326.99,493.54 L327.10,493.49 L327.22,493.25 L327.34,493.23 L327.46,493.26 L327.57,493.21 L327.69,493.11 L327.81,492.97 L327.93,492.86 L328.04,492.62 L328.16,492.58 L328.28,492.51 L328.40,492.47 L328.52,492.24 L328.63,492.25 L328.75,492.20 L328.87,492.06 L328.99,492.01 L329.10,492.11 L329.22,492.12 L329.34,492.03 L329.46,492.06 L329.57,492.04 L329.69,492.10 L329.81,491.93 L329.93,491.94 L330.05,492.03 L330.16,492.08 L330.28,492.04 L330.40,492.09 L330.52,492.07 L330.63,492.11 L330.75,492.22 L330.87,492.29 L330.99,492.49 L331.10,492.53 L331.22,492.55 L331.34,492.41 L331.46,492.37 L331.57,492.34 L331.69,492.28 L331.81,492.33 L331.93,492.44 L332.05,492.33 L332.16,492.25 L332.28,492.24 L332.40,492.00 L332.52,491.89 L332.63,491.84 L332.75,491.83 L332.87,491.85 L332.99,491.68 L333.10,491.60 L333.22,491.53 L333.34,491.24 L333.46,490.95 L333.58,490.96 L333.69,490.84 L333.81,490.71 L333.93,490.78 L334.05,490.74 L334.16,490.63 L334.28,490.53 L334.40,490.42 L334.52,490.27 L334.63,490.16 L334.75,490.04 L334.87,490.13 L334.99,490.10 L335.10,490.19 L335.22,490.37 L335.34,490.37 L335.46,490.24 L335.58,490.23 L335.69,489.98 L335.81,489.77 L335.93,489.68 L336.05,489.37 L336.16,488.96 L336.28,488.61 L336.40,488.22 L336.52,487.67 L336.63,487.08 L336.75,486.32 L336.87,485.49 L336.99,484.43 L337.11,483.32 L337.22,482.26 L337.34,481.22 L337.46,480.05 L337.58,478.93 L337.69,477.76 L337.81,476.48 L337.93,475.42 L338.05,474.33 L338.16,473.30 L338.28,472.52 L338.40,472.14 L338.52,471.87 L338.64,471.94 L338.75,472.33 L338.87,473.11 L338.99,473.93 L339.11,474.90 L339.22,476.18 L339.34,477.46 L339.46,478.54 L339.58,479.85 L339.69,481.22 L339.81,482.50 L339.93,483.72 L340.05,484.86 L340.16,485.85 L340.28,486.82 L340.40,487.61 L340.52,488.27 L340.64,488.92 L340.75,489.48 L340.87,489.79 L340.99,490.11 L341.11,490.38 L341.22,490.62 L341.34,490.70 L341.46,490.89 L341.58,490.94 L341.69,490.97 L341.81,491.09 L341.93,491.10 L342.05,491.00 L342.17,490.86 L342.28,490.82 L342.40,490.65 L342.52,490.56 L342.64,490.53 L342.75,490.50 L342.87,490.36 L342.99,490.21 L343.11,490.17 L343.22,490.03 L343.34,490.05 L343.46,489.92 L343.58,489.88 L343.69,489.71 L343.81,489.69 L343.93,489.49 L344.05,489.46 L344.17,489.31 L344.28,489.38 L344.40,489.21 L344.52,489.19 L344.64,489.23 L344.75,489.24 L344.87,489.13 L344.99,489.17 L345.11,489.16 L345.22,489.05 L345.34,489.02 L345.46,488.94 L345.58,488.91 L345.70,488.81 L345.81,488.71 L345.93,488.53 L346.05,488.41 L346.17,488.14 L346.28,487.99 L346.40,487.96 L346.52,487.87 L346.64,487.80 L346.75,487.73 L346.87,487.53 L346.99,487.35 L347.11,487.28 L347.22,486.94 L347.34,486.84 L347.46,486.79 L347.58,486.62 L347.70,486.53 L347.81,486.60 L347.93,486.50 L348.05,486.57 L348.17,486.43 L348.28,486.38 L348.40,486.31 L348.52,486.17 L348.64,485.86 L348.75,485.86 L348.87,485.59 L348.99,485.40 L349.11,485.26 L349.23,485.13 L349.34,484.86 L349.46,484.59 L349.58,484.25 L349.70,483.91 L349.81,483.49 L349.93,483.17 L350.05,482.98 L350.17,482.76 L350.28,482.43 L350.40,482.25 L350.52,481.98 L350.64,481.71 L350.75,481.42 L350.87,481.22 L350.99,480.91 L351.11,480.58 L351.23,480.21 L351.34,479.80 L351.46,479.24 L351.58,478.53 L351.70,477.70 L351.81,476.77 L351.93,475.76 L352.05,474.60 L352.17,473.32 L352.28,472.01 L352.40,470.32 L352.52,468.37 L352.64,466.23 L352.76,464.01 L352.87,461.40 L352.99,458.52 L353.11,455.50 L353.23,452.20 L353.34,448.48 L353.46,444.50 L353.58,440.53 L353.70,436.15 L353.81,431.70 L353.93,427.32 L354.05,423.12 L354.17,419.22 L354.29,415.78 L354.40,413.11 L354.52,411.17 L354.64,410.30 L354.76,410.25 L354.87,411.42 L354.99,413.38 L355.11,416.22 L355.23,419.67 L355.34,423.69 L355.46,427.93 L355.58,432.53 L355.70,437.22 L355.81,441.91 L355.93,446.59 L356.05,451.19 L356.17,455.46 L356.29,459.40 L356.40,463.02 L356.52,466.37 L356.64,469.45 L356.76,472.20 L356.87,474.76 L356.99,477.08 L357.11,479.09 L357.23,480.68 L357.34,482.17 L357.46,483.25 L357.58,484.14 L357.70,484.94 L357.82,485.66 L357.93,486.09 L358.05,486.74 L358.17,487.10 L358.29,487.33 L358.40,487.48 L358.52,487.77 L358.64,487.92 L358.76,488.08 L358.87,488.23 L358.99,488.37 L359.11,488.50 L359.23,488.43 L359.34,488.54 L359.46,488.58 L359.58,488.74 L359.70,488.78 L359.82,488.96 L359.93,488.99 L360.05,489.01 L360.17,489.06 L360.29,489.17 L360.40,489.15 L360.52,489.24 L360.64,489.40 L360.76,489.35 L360.87,489.31 L360.99,489.61 L361.11,489.68 L361.23,489.66 L361.35,489.75 L361.46,489.90 L361.58,489.70 L361.70,489.80 L361.82,489.94 L361.93,490.06 L362.05,490.10 L362.17,490.22 L362.29,490.18 L362.40,490.23 L362.52,490.22 L362.64,490.34 L362.76,490.47 L362.87,490.49 L362.99,490.54 L363.11,490.63 L363.23,490.67 L363.35,490.73 L363.46,490.91 L363.58,490.95 L363.70,491.10 L363.82,491.12 L363.93,491.10 L364.05,491.06 L364.17,491.10 L364.29,491.08 L364.40,491.06 L364.52,491.20 L364.64,491.41 L364.76,491.34 L364.88,491.33 L364.99,491.41 L365.11,491.34 L365.23,491.32 L365.35,491.53 L365.46,491.61 L365.58,491.72 L365.70,491.70 L365.82,491.70 L365.93,491.60 L366.05,491.50 L366.17,491.29 L366.29,491.38 L366.40,491.27 L366.52,491.37 L366.64,491.53 L366.76,491.64 L366.88,491.54 L366.99,491.65 L367.11,491.56 L367.23,491.52 L367.35,491.63 L367.46,491.74 L367.58,491.62 L367.70,491.67 L367.82,491.65 L367.93,491.53 L368.05,491.59 L368.17,491.62 L368.29,491.53 L368.41,491.48 L368.52,491.46 L368.64,491.47 L368.76,491.61 L368.88,491.78 L368.99,491.96 L369.11,492.12 L369.23,492.05 L369.35,491.94 L369.46,491.96 L369.58,491.88 L369.70,491.94 L369.82,492.05 L369.94,492.24 L370.05,492.33 L370.17,492.41 L370.29,492.35 L370.41,492.38 L370.52,492.38 L370.64,492.37 L370.76,492.41 L370.88,492.48 L370.99,492.47 L371.11,492.54 L371.23,492.48 L371.35,492.47 L371.46,492.37 L371.58,492.35 L371.70,492.28 L371.82,492.36 L371.94,492.53 L372.05,492.63 L372.17,492.63 L372.29,492.55 L372.41,492.69 L372.52,492.64 L372.64,492.68 L372.76,492.85 L372.88,492.96 L372.99,492.80 L373.11,492.80 L373.23,492.79 L373.35,492.84 L373.47,492.92 L373.58,492.99 L373.70,492.90 L373.82,493.01 L373.94,492.93 L374.05,492.82 L374.17,492.77 L374.29,492.78 L374.41,492.72 L374.52,492.68 L374.64,492.68 L374.76,492.53 L374.88,492.54 L374.99,492.41 L375.11,492.43 L375.23,492.49 L375.35,492.53 L375.47,492.55 L375.58,492.55 L375.70,492.51 L375.82,492.38 L375.94,492.34 L376.05,492.43 L376.17,492.41 L376.29,492.44 L376.41,492.56 L376.52,492.73 L376.64,492.64 L376.76,492.85 L376.88,492.94 L377.00,493.03 L377.11,493.03 L377.23,493.03 L377.35,492.93 L377.47,492.88 L377.58,492.89 L377.70,493.05 L377.82,493.11 L377.94,493.18 L378.05,493.20 L378.17,493.10 L378.29,493.03 L378.41,493.10 L378.52,493.29 L378.64,493.30 L378.76,493.43 L378.88,493.50 L379.00,493.49 L379.11,493.44 L379.23,493.55 L379.35,493.45 L379.47,493.38 L379.58,493.38 L379.70,493.30 L379.82,493.25 L379.94,493.40 L380.05,493.33 L380.17,493.43 L380.29,493.46 L380.41,493.54 L380.53,493.61 L380.64,493.94 L380.76,494.09 L380.88,494.07 L381.00,493.99 L381.11,494.02 L381.23,493.89 L381.35,493.75 L381.47,493.94 L381.58,493.95 L381.70,494.01 L381.82,494.08 L381.94,494.32 L382.05,494.18 L382.17,494.31 L382.29,494.16 L382.41,494.20 L382.53,494.02 L382.64,494.13 L382.76,494.14 L382.88,494.13 L383.00,493.93 L383.11,493.88 L383.23,493.93 L383.35,493.90 L383.47,493.96 L383.58,494.09 L383.70,494.19 L383.82,494.18" fill="none" stroke="#444" stroke-width="0.6"/>
<text transform="translate(193.6,471.5) rotate(-90) scale(1.0,1)" x="0" y="0" font-size="8.4" fill="#231f20" text-anchor="middle" >Q188</text>
<text transform="translate(213.2,440.4) rotate(-90) scale(1.0,1)" x="0" y="0" font-size="8.4" fill="#231f20" text-anchor="middle" >R188</text>
<text transform="translate(248.2,477.2) rotate(-90) scale(1.0,1)" x="0" y="0" font-size="8.4" fill="#231f20" text-anchor="middle" >Q188</text>
<text transform="translate(263.8,473.4) rotate(-90) scale(1.0,1)" x="0" y="0" font-size="8.4" fill="#231f20" text-anchor="middle" >R188</text>
<text transform="translate(330.4,453.3) rotate(-90) scale(1.0,1)" x="0" y="0" font-size="8.4" fill="#231f20" text-anchor="middle" >Q188</text>
<text transform="translate(350.5,422.4) rotate(-90) scale(1.0,1)" x="0" y="0" font-size="8.4" fill="#231f20" text-anchor="middle" >R188</text>
<line x1="452.8" y1="342" x2="452.8" y2="474.9" stroke="#151515" stroke-width="1.5"/>
<line x1="452.1" y1="474.2" x2="512" y2="474.2" stroke="#151515" stroke-width="1.5"/>
<line x1="449.2" y1="474.20" x2="452.8" y2="474.20" stroke="#151515" stroke-width="1.25"/>
<text x="445.2" y="477.09999999999997" font-size="9" fill="#231f20" text-anchor="end" font-weight="normal" font-style="normal" >0</text>
<line x1="449.2" y1="433.70" x2="452.8" y2="433.70" stroke="#151515" stroke-width="1.25"/>
<text x="445.2" y="436.59999999999997" font-size="9" fill="#231f20" text-anchor="end" font-weight="normal" font-style="normal" >10,000</text>
<line x1="449.2" y1="393.20" x2="452.8" y2="393.20" stroke="#151515" stroke-width="1.25"/>
<text x="445.2" y="396.09999999999997" font-size="9" fill="#231f20" text-anchor="end" font-weight="normal" font-style="normal" >20,000</text>
<line x1="449.2" y1="352.70" x2="452.8" y2="352.70" stroke="#151515" stroke-width="1.25"/>
<text x="445.2" y="355.59999999999997" font-size="9" fill="#231f20" text-anchor="end" font-weight="normal" font-style="normal" >30,000</text>
<line x1="467.3" y1="474.2" x2="467.3" y2="477.5" stroke="#231f20" stroke-width="1"/>
<line x1="497" y1="474.2" x2="497" y2="477.5" stroke="#231f20" stroke-width="1"/>
<rect x="456.6" y="366.88" width="21.6" height="107.32" fill="#0e4980"/>
<rect x="486" y="385.91" width="21.8" height="88.29" fill="#c50326"/>
<line x1="467.3" y1="331.24" x2="467.3" y2="403.32" stroke="#231f20" stroke-width="1"/>
<line x1="465.1" y1="403.32" x2="469.5" y2="403.32" stroke="#231f20" stroke-width="1"/>
<line x1="465.1" y1="331.24" x2="469.5" y2="331.24" stroke="#231f20" stroke-width="1"/>
<line x1="497.2" y1="360.39" x2="497.2" y2="411.02" stroke="#231f20" stroke-width="1"/>
<line x1="495.0" y1="411.02" x2="499.4" y2="411.02" stroke="#231f20" stroke-width="1"/>
<line x1="495.0" y1="360.39" x2="499.4" y2="360.39" stroke="#231f20" stroke-width="1"/>
<line x1="467" y1="328.2" x2="497" y2="328.2" stroke="#231f20" stroke-width="1.1"/>
<text x="481.9" y="324.8" font-size="8.6" fill="#231f20" text-anchor="middle" font-weight="normal" font-style="normal" >ns</text>
<text x="467.5" y="489.2" font-size="8.2" fill="#231f20" text-anchor="middle" font-weight="normal" font-style="normal" >R188</text>
<text x="497" y="489.2" font-size="8.2" fill="#231f20" text-anchor="middle" font-weight="normal" font-style="normal" >Q188</text>
<text x="409" y="486.6" font-size="8.7" fill="#231f20" text-anchor="start" font-weight="normal" font-style="normal" >Runx1</text>
<text x="409" y="496.5" font-size="8.7" fill="#231f20" text-anchor="start" font-weight="normal" font-style="normal" >isoform</text>
<text transform="translate(411.6,458.7) rotate(-90) scale(1.0,1)" x="0" y="0" font-size="10" fill="#231f20" text-anchor="start"  textLength="102.8" lengthAdjust="spacingAndGlyphs" stroke="#231f20" stroke-width="0.4">BAMS spectra intensity in HPCs</text>
<rect x="0" y="0" width="520" height="1.2" fill="#424242"/><rect x="0" y="534.6" width="520" height="1.4" fill="#424242"/><rect x="0" y="0" width="1.15" height="536" fill="#424242"/><rect x="518.85" y="0" width="1.15" height="536" fill="#424242"/>
</svg>
</body></html>
